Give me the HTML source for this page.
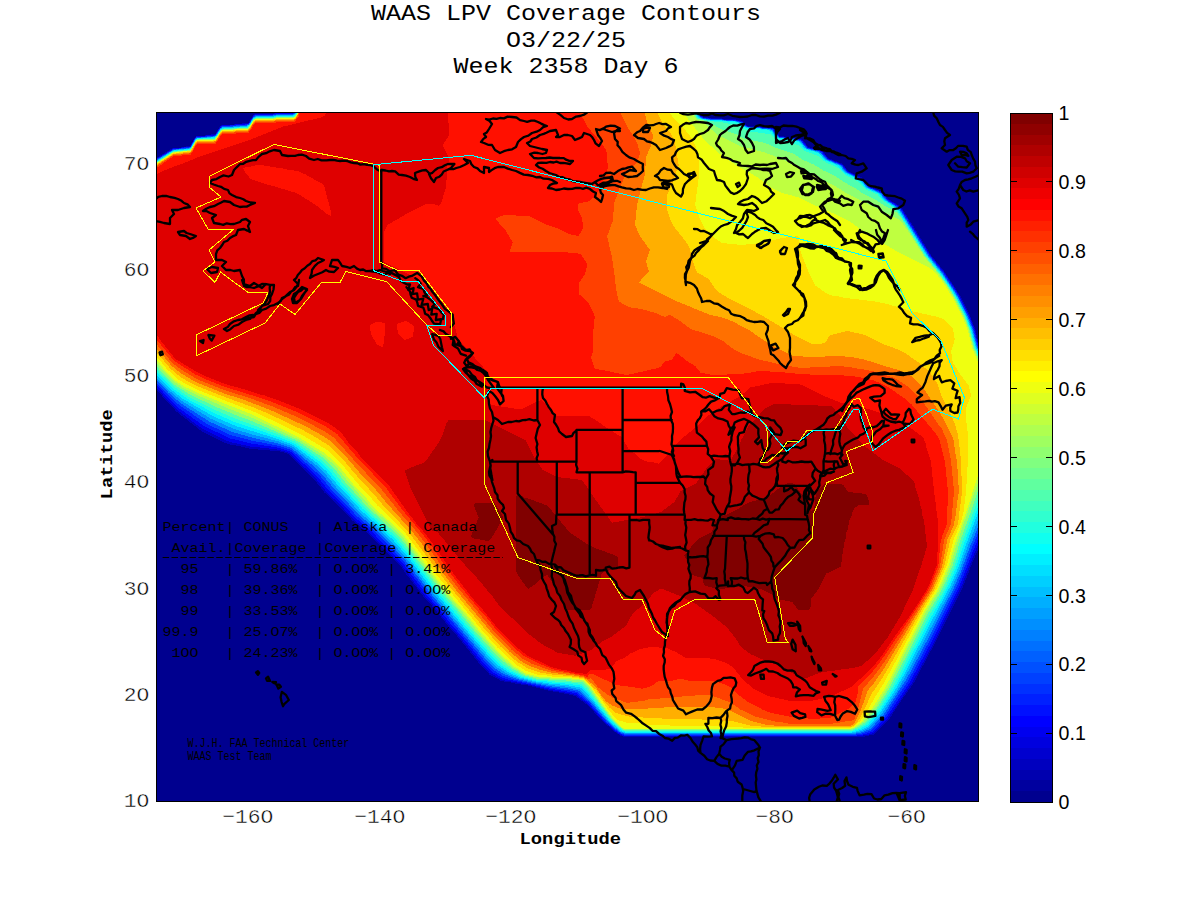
<!DOCTYPE html>
<html><head><meta charset="utf-8"><title>WAAS LPV Coverage Contours</title>
<style>
html,body{margin:0;padding:0;background:#fff;}
body{width:1200px;height:900px;overflow:hidden;font-family:"Liberation Mono",monospace;}
svg{display:block}
text{font-family:"Liberation Mono",monospace;fill:#000}
.sans{font-family:"Liberation Sans",sans-serif}
</style></head><body>
<svg width="1200" height="900" viewBox="0 0 1200 900">
<defs><clipPath id="pc"><rect x="156" y="112" width="823" height="690"/></clipPath></defs>
<rect width="1200" height="900" fill="#fff"/>
<g clip-path="url(#pc)">
<rect x="156" y="112" width="823" height="690" fill="rgb(0,0,143)"/>
<g shape-rendering="crispEdges">
<path fill="rgb(0,0,191)" d="M153.5,159.7 173.5,147.7 180.5,147.5 182.5,146.7 189.5,146.3 190.5,145.4 194.6,137.5 196.5,135.7 204.5,135.6 207.5,134.6 214.5,134.4 215.5,133.6 219.7,126.5 221.5,124.8 233.5,124.6 236.5,123.6 247.5,123.4 248.5,122.6 252.7,115.5 254.5,113.8 273.5,113.6 276.5,112.6 293.5,112.5 294.9,111.5 295.8,109.5 699.3,109.5 699.6,112.5 701.7,115.5 704.5,117.2 708.5,117.5 711.5,118.2 721.5,118.3 724.5,119 734.5,119.3 742.5,120.8 747,125.5 748.5,126.1 759.5,126.3 762.5,127.2 773.5,127.9 779.5,135.7 780.5,136.2 783.5,136.3 786.5,137.2 795.5,137.6 797.5,138.4 801.5,138.8 803.4,140.5 808.5,147.1 822.5,150.9 828.5,158.2 842.5,163.8 848.5,171.2 862.5,177.8 864.4,179.5 869.5,186.2 882.5,191.8 888.5,199.2 899.5,205.8 901.5,207.6 916.1,230.5 930.6,254.5 944.5,271.6 960.1,295.5 970.1,315.5 973.5,325.4 975.1,328.5 978.5,343.4 981.5,351.4 981.5,541.4 972,563.5 963.5,585.5 932.5,648.4 930.9,650.5 913.5,683.5 902,699.5 889.5,718.6 873.5,734.6 862.5,737 624.5,737.2 619.5,735.1 613.5,731.2 608.5,726.3 604.8,723.5 594.9,713.5 592.9,710.5 587.5,705 575.5,696.1 567.5,694.1 548.5,690.7 527.5,685.3 517.5,684 508.5,681.9 505.5,681.8 500.5,680.5 489.5,674.5 479.3,663.5 459.5,638.8 448.5,626.5 434.5,608.8 423.5,596.5 406.5,574.5 400.3,565.5 367.5,532.7 352.5,520.6 339.5,506.6 324.5,492.5 314.4,479.5 289.5,454.8 285.5,453 277.5,451 270.5,450.7 267.5,449.7 258.5,449.6 255.5,448.7 249.5,448.6 237.5,445.8 229.5,444.5 224,442.5 202,431.5 176.5,411.6 162.3,396.5 160.3,393.5 153.5,387Z"/>
<path fill="rgb(0,0,239)" d="M153.5,160.4 173.5,148.3 180.5,148 183.5,147.1 190.2,146.5 193.9,139.5 196.5,136.3 204.5,136 207.5,135.2 213.5,135.1 215.4,134.5 220.3,126.5 221.5,125.5 233.5,125.1 236.5,124.2 247.5,123.9 248.5,123.4 253.5,115.3 255.5,114.2 272.5,114.1 276.5,113.2 292.5,113.1 294.7,112.5 296.4,109.5 698.7,109.5 698.9,112.5 701,115.5 703.5,117.6 708.5,117.9 711.5,118.7 721.5,118.8 724.5,119.6 734.5,119.8 742.5,121.5 745.5,124.8 747.9,126.5 759.5,126.8 762.5,127.7 768.5,127.8 773.3,128.5 779.5,136.5 784.5,136.9 786.5,137.7 794.5,137.9 801.5,139.6 808.1,147.5 818.5,150 822.5,151.6 828,158.5 842.4,164.5 847.9,171.5 862.5,178.5 868.9,186.5 873.5,188.8 878.5,190.4 882.5,192.6 887.9,199.5 899.5,206.5 901.4,208.5 929.9,254.5 944.4,272.5 959.4,295.5 969.4,315.5 974.4,328.5 977.9,343.5 981.5,352.7 981.5,537.4 975.6,550.5 961.5,586.1 931.1,647.5 912.2,682.5 887.8,718.5 873.5,733.1 868.5,734.8 864.5,735.2 861.5,736.1 850.5,736.5 624.5,736.4 619.5,734.2 613.8,730.5 608.5,725.2 604.9,722.5 587.5,703.7 576.5,695.3 567.5,692.9 549.5,689.9 527.5,684.4 523.5,684.1 515.5,682.2 511.5,681.8 509.5,681 505.5,680.6 499.6,678.5 489.5,672.5 480.4,662.5 460.5,637.8 450.4,626.5 435.5,607.8 425.4,596.5 417.4,586.5 401.3,564.5 368.5,531.5 353.7,519.5 340.5,505.2 326.1,491.5 315.9,478.5 290,453.5 285.5,451.7 277.5,449.5 250.5,446.5 230.5,442.1 225.5,440.3 204.5,430 198.5,426.1 177.5,410.1 163.3,395.5 161.1,392.5 153.5,385.5Z"/>
<path fill="rgb(0,32,255)" d="M153.5,160.9 173.5,148.8 180.5,148.4 183.5,147.5 188.5,147.4 190.5,146.7 194.3,139.5 196.5,136.8 204.5,136.5 207.5,135.7 213.5,135.5 215.5,134.9 221.5,126.1 247.5,124.3 248.9,123.5 253.5,116.1 255.5,114.7 272.5,114.7 277.5,113.7 292.5,113.6 295.3,112.5 296.7,109.5 698.2,109.5 698.3,112.5 701.2,116.5 703.5,117.9 708.5,118.3 711.5,119 721.5,119.1 724.5,119.8 735.5,120.3 742.5,122.1 745.6,125.5 747.5,126.7 759.5,127.1 762.5,128 768.5,128.1 772.5,128.8 773.6,129.5 776.5,133.7 779.5,136.8 783.5,137.1 786.5,138 794.5,138.3 800.5,139.8 802.5,141.3 807.5,147.6 811.5,149.1 818.5,150.5 822.5,152.4 827.5,158.7 840.5,164 842.6,165.5 847.5,171.8 862.5,179.2 868.5,186.8 878.5,190.9 882.5,193.4 887.5,199.8 899.5,207.2 900.7,208.5 929.5,254.9 943.7,272.5 955.7,290.5 959.2,296.5 968.7,315.5 974,329.5 978.3,346.5 981.5,354.1 981.5,531.1 973.7,549.5 960,584.5 930.1,644.5 910.2,681.5 886.3,717.5 872.5,731.7 861.5,735.1 857.4,735.5 624.5,735.7 619.6,733.5 614.5,730.1 606.1,722.5 588.5,703.1 576.6,693.5 567.5,691.5 549.5,688.7 506.5,679.1 501.5,677.4 491.5,671.3 482.3,661.5 462.5,637.2 452.1,625.5 437.5,607.2 427.1,595.5 403,563.5 371.5,531.4 355,517.5 342.2,503.5 328.5,490.3 317.5,476.6 291.5,452.4 286.5,450.1 277.5,447.5 251.5,443.6 230.5,438.5 206.5,427.4 200.3,423.5 178.5,407.8 165,394.5 162.7,391.5 156.7,385.5 153.5,383.1Z"/>
<path fill="rgb(0,80,255)" d="M153.5,161.5 173.5,149.3 188.5,147.8 190.5,147.1 194.5,139.7 196.5,137.3 212.5,136.1 215.5,135.3 220.5,127.8 222.5,126.3 232.5,126.2 236.5,125.3 246.5,125 249.3,123.5 253.5,116.8 255.5,115.3 272.5,115.2 277.5,114.2 292.5,114.1 295.5,112.8 296.9,109.5 697.6,109.5 698.2,113.5 700.5,116.5 703.5,118.2 711.5,119.4 721.5,119.4 724.5,120.1 735.5,120.6 741.5,122.2 744.9,125.5 747.5,127 759.5,127.4 762.5,128.3 768.5,128.5 772.5,129.4 776.5,134.5 779.5,137.2 783.5,137.4 786.5,138.3 794.5,138.7 800.5,140.3 807.5,148.1 818.5,150.9 821.6,152.5 827.5,159.2 840.3,164.5 841.7,165.5 847.5,172.4 856.5,176.4 861.9,179.5 868.5,187.4 878.5,191.4 881.7,193.5 887.5,200.4 899.9,208.5 929.2,255.5 942.9,272.5 958.5,296.5 968.4,316.5 973.4,329.5 977.7,346.5 981.5,355.9 981.5,524.6 971.7,548.5 958.5,582.8 928.1,643.5 908.5,680.1 884.6,716.5 871.5,730.3 861.5,733.8 853.5,734.9 625.5,735 620.5,733.2 614.5,729 606.4,721.5 589.5,702.3 577.5,692 568.5,690.1 550.5,687.6 518.5,680.8 502.5,675.7 492.5,669.4 483.5,659.7 438.6,605.5 429,594.5 403.8,561.5 388.5,545 373.5,530.3 356.3,515.5 343.5,501.5 330.4,488.5 319.9,475.5 292.5,450.9 287.5,448.5 278.5,445.7 252.5,440.8 230.5,435 207.5,424.3 179.5,405.4 166.7,393.5 157.5,383.6 153.5,380.3Z"/>
<path fill="rgb(0,143,255)" d="M153.5,162 173.5,149.7 188.5,148.3 190.5,147.5 194.5,140.3 196.5,137.8 212.5,136.7 215.5,135.7 220.5,128.4 222.5,126.9 232.5,126.7 237.5,125.7 246.5,125.5 248.5,124.7 253.5,117.4 255.5,115.9 272.5,115.7 277.5,114.7 292.5,114.6 295.5,113.2 297.1,109.5 697,109.5 697.1,112.5 698.8,115.5 700.5,117.1 703.3,118.5 711.5,119.7 721.5,119.7 724.5,120.4 735.5,121 741,122.5 744.2,125.5 747.5,127.3 759.5,127.7 762.5,128.6 767.5,128.7 771.2,129.5 772.7,130.5 775.7,134.5 779.5,137.6 783.5,137.7 786.5,138.6 794.5,139.1 799.5,140.6 801.1,141.5 805,146.5 807.3,148.5 818.5,151.4 820.4,152.5 827,159.5 839.5,164.7 841.5,166.2 846.9,172.5 857.6,177.5 861.5,180 867.9,187.5 877.5,191.5 880.7,193.5 886.9,200.5 897.9,207.5 899.5,209 928.4,255.5 942.1,272.5 957.8,296.5 967.7,316.5 972.7,329.5 976.3,344.5 981.5,357.9 981.5,518.5 969.7,547.5 960.6,572.5 953.1,589.5 926,642.5 906.9,678.5 883,715.5 870.5,728.8 860.5,732.8 852.5,734.2 625.5,734.2 620.5,732.4 615.5,728.7 607.7,721.5 589.5,700.5 578.5,690.5 567.5,688.4 550.5,686.3 534.5,683.3 519.5,679.8 503.5,674 493.6,667.5 485.5,658.8 430.5,593.2 405.5,560.4 388.2,541.5 374.5,528.2 357.6,513.5 345.5,500.1 333,487.5 322.4,474.5 315.2,467.5 291.5,448.1 278.5,443.6 252.5,437.7 232.5,432.1 209.2,421.5 180.5,403.1 168.5,392.5 159.5,383 153.5,377.6Z"/>
<path fill="rgb(0,191,255)" d="M153.5,162.6 172.5,150.5 174.5,149.9 188.5,148.7 190.5,147.9 195.4,139.5 197.5,137.9 205.5,137.7 214.5,136.7 216.5,135.2 220.5,128.9 222.5,127.5 246.5,126.1 249.5,124.2 253.5,117.9 256.5,116.3 272.5,116.2 277.5,115.3 293.5,114.9 296.5,112.5 297.3,109.5 696.4,109.5 696.4,112.5 697.4,114.5 699.5,117.2 702.5,118.6 710.5,119.9 721.5,120.1 724.5,120.7 735.5,121.3 740.5,122.9 743.5,125.6 748.5,127.9 759.5,128.1 762.5,129 769.7,129.5 771.7,130.5 775.5,135.1 779.5,137.9 794.5,139.5 799.5,141.2 806.5,148.6 818.5,151.9 820.8,153.5 826.1,159.5 839.5,165.3 846.5,172.9 859.9,179.5 867.5,187.8 877.5,192 879.8,193.5 886,200.5 896.9,207.5 899.1,209.5 927.7,255.5 941.5,272.7 954.1,291.5 957.6,297.5 967,316.5 972,329.5 976.7,347.5 981.5,359.3 981.5,510.9 967.7,546.5 959.2,570.5 951.9,587.5 904.9,677.5 896.5,691.6 881.4,714.5 869.5,727.4 860.5,731.5 852.5,733.3 625.5,733.3 620.5,731.5 615.5,727.6 608.5,721 590.5,699.6 579.5,689.1 567.5,686.8 550.5,685 535.5,682.4 519.5,678.5 507.5,673.9 495.8,666.5 487.1,657.5 436.7,597.5 423.8,581.5 407.5,559.7 391.4,541.5 376.5,527.1 359.5,512.1 347.3,498.5 336.5,487.6 325,473.5 316.7,465.5 292.5,446.5 277.5,441.1 252.5,434.6 233.5,428.8 210.5,418.5 181.1,400.5 170.4,391.5 153.5,374.7Z"/>
<path fill="rgb(0,239,255)" d="M153.5,163.2 173.5,150.6 189.5,148.9 191.5,147.1 195.5,139.7 197.5,138.4 214.5,137.3 216.5,135.6 220.5,129.4 222.5,128.1 232.5,127.7 237.5,126.8 246.5,126.7 249.5,124.6 253.5,118.4 256.5,116.8 272.5,116.7 277.5,115.8 293.5,115.5 296.5,113 297.5,109.5 695.7,109.5 696,113.5 698,116.5 699.5,117.8 702.5,119 710.5,120.2 721.5,120.4 724.5,121.1 734.9,121.5 740.5,123.5 743.5,126.3 747.5,128.1 759.5,128.4 762.5,129.3 768.5,129.6 771.5,131.2 774.9,135.5 778.5,138 783.5,138.4 786.5,139.3 792.2,139.5 798.8,141.5 800.2,142.5 804.2,147.5 806.5,149.2 818.5,152.5 825.5,159.8 838.8,165.5 845.5,172.8 858.9,179.5 861.3,181.5 866.5,187.8 878.9,193.5 885.1,200.5 894.5,206.5 898.3,209.5 926.9,255.5 941.3,273.5 953.3,291.5 956.9,297.5 966.3,316.5 971.3,329.5 976,347.5 981.5,360.9 981.5,503.6 965.7,545.5 957.5,569.5 950.1,586.5 934,616.5 903,676.5 892.5,694.3 879.8,713.5 868.5,726.1 859.5,730.5 851.5,732.6 625.5,732.5 621.5,731.3 616.5,727.4 609.3,720.5 591.3,698.5 583.5,690.1 580.3,687.5 567.5,685.2 551.5,683.8 536.5,681.6 520.5,677.5 508.5,672.4 497.5,665.1 489,656.5 465.1,628.5 429.5,585.5 408.3,557.5 393.6,540.5 377.5,525 361.2,510.5 348.7,496.5 338.5,486.1 326.6,471.5 318.5,463.8 293.5,445 278.5,439.2 235.5,425.9 212.5,415.9 182.5,398.6 171.5,389.8 153.5,371.6Z"/>
<path fill="rgb(32,255,223)" d="M153.5,163.7 173.5,151 189.5,149.4 191.5,147.5 195.5,140.1 197.5,138.8 214.5,137.9 217.5,134.8 220.5,129.9 222.5,128.6 247.5,126.9 250.5,123.8 253.5,118.9 256.5,117.4 272.5,117.3 277.5,116.3 293.5,116.1 296.5,113.5 297.6,109.5 695.1,109.5 695.1,112.5 695.9,114.5 697.9,117.5 700.5,118.8 710.5,120.6 720.5,120.9 736.5,122.5 739.5,123.7 743.5,127.1 748.5,128.8 758.5,129 762.5,130 769.1,130.5 771.5,132.4 774.5,136.2 779.5,138.9 794.5,140.5 797.2,141.5 799.5,142.9 803.5,148 806.5,150 813.6,151.5 818.5,153.4 825.5,160.6 837.5,165.5 845.5,173.6 857.8,179.5 860.3,181.5 864.5,186.9 866.5,188.5 877.8,193.5 884.1,200.5 897.5,209.6 926.5,256 940.6,273.5 952.6,291.5 956.5,298.1 965.7,316.5 970.7,329.5 975.3,347.5 981.5,362.7 981.5,496 975.5,513.5 963.7,544.5 955.5,569.1 948.4,585.5 943.4,595.5 932,615.5 901.1,675.5 890.8,693.5 880.5,709.6 867.8,724.5 859.5,729.1 851.5,731.7 625.5,731.7 621.5,730.4 609.6,719.5 592.1,697.5 585.2,689.5 580.5,685.6 567.5,683.7 551.5,682.5 546.5,681.5 536.5,680.5 526.5,678.2 521.3,676.5 510.5,671.5 501.4,665.5 497.5,662.3 490.5,655.1 472.7,634.5 434.5,588.6 410.1,556.5 395.7,539.5 379.1,523.5 362.5,508.5 340.5,484.5 328.5,469.8 319.6,461.5 294.5,443.5 277.5,436.6 233.5,421.5 213.5,412.8 187.5,398.9 172.5,388.1 158.5,374.4 153.5,368.6Z"/>
<path fill="rgb(80,255,175)" d="M153.5,164.1 173.5,151.4 189.5,149.9 191.5,148 194.9,141.5 196.5,139.6 198.5,139.1 214.5,138.6 217.5,135.2 220.5,130.3 222.5,129.1 247.5,127.6 250.5,124.2 253.5,119.3 256.5,117.9 272.5,117.8 277.5,116.8 293.5,116.7 294.5,116.2 296.8,113.5 297.8,109.5 694.4,109.5 694.6,113.5 697,117.5 698.5,118.7 709.5,121.1 720.5,122.1 735.5,125.1 739.5,126.2 747.5,131.1 770.5,134.3 774.5,138.1 778.5,140.4 798.5,145.1 802.5,149.2 805.5,151.3 817.5,155.6 825.5,162.3 837.5,167.5 845.5,175.1 858.5,181.6 863.6,187.5 866.5,189.7 877.6,194.5 883.5,201.1 893.7,207.5 897.5,210.9 926,256.5 939.8,273.5 951.8,291.5 956,298.5 965,316.5 970.3,330.5 974.6,347.5 981.5,364.3 981.5,487.6 973.2,512.5 962,542.5 954,567.5 946.6,584.5 941.6,594.5 930.5,613.5 898.1,676.5 889.2,692.5 878.5,709.2 866.5,723.3 858.5,728.2 851.5,730.9 624.5,730.8 621.6,729.5 610.5,719.1 586.6,688.5 581.5,684 568.5,682.2 551.5,681.3 546.5,680.2 536.5,679.5 527.5,677.3 522,675.5 511.5,670.2 502.5,663.8 491.5,653.1 474.4,633.5 454.5,609 436.2,587.5 411.5,555 397.5,538.1 364.5,507.2 342.5,483 332.6,470.5 321.5,459.9 294.6,441.5 278.5,434.6 235.5,418.7 215.5,410.2 188.5,396.7 173.5,386.3 159.5,372.6 155.2,367.5 153.5,364Z"/>
<path fill="rgb(143,255,112)" d="M153.5,164.6 173.5,151.8 189.5,150.3 191.5,148.4 195.1,141.5 196.5,140 198.5,139.5 214.5,139.1 216.5,137.1 221.5,129.9 224.5,129.3 233.5,129.2 237.5,128.3 247.5,128.1 249.5,126.1 253.5,119.8 255.5,118.5 272.5,118.3 277.5,117.3 293.5,117.2 294.8,116.5 297.1,113.5 297.9,109.5 693.7,109.5 694.1,114.5 697.5,119 705.5,120.9 709.8,122.5 720.5,128.9 735.5,133.9 744.5,138.8 765.5,143.1 776.5,148.1 793.5,153.8 803.5,160.2 813.8,164.5 823.5,170.5 834.5,175.7 843,181.5 855.5,188.4 863.5,193.9 876.5,200.3 883.5,205 896.5,212.3 900.5,216.8 925.1,256.5 939.5,274.3 946.5,284.2 954.7,297.5 964.2,316.5 969.7,330.5 973.9,347.5 981.5,365.9 981.5,479.5 970.9,511.5 960,541.5 952.2,566.5 944.9,583.5 939.8,593.5 928.5,612.3 909.3,650.5 888.7,689.5 877.5,707.5 865.5,722 857.5,727.4 851.5,730.1 624.5,730.1 622.5,729.4 611.2,718.5 587.9,687.5 582.5,682.5 572.5,681.5 568.5,680.6 551.5,680 547.5,679.1 536.5,678.5 524.5,675.3 512,668.5 499.6,658.5 491.9,650.5 489.7,647.5 475.5,631.8 460.9,613.5 437.5,585.9 413.5,554.3 399.5,536.9 366.5,506 344.6,481.5 334.5,468.7 322.6,457.5 295.5,439.9 250.5,420.6 236.5,415.4 216.5,407.1 189.7,394.5 174.3,384.5 161.1,371.5 157,366.5 153.5,360.9Z"/>
<path fill="rgb(191,255,64)" d="M153.5,165 173.5,152.2 180.5,151.8 183.5,150.9 190,150.5 191.7,148.5 195.4,141.5 196.5,140.3 198.5,139.9 214.7,139.5 221.5,130.3 223.5,129.8 233.5,129.7 236.5,128.8 247.5,128.6 249.5,126.6 253.5,120.2 255.5,118.9 273.5,118.7 277.5,117.8 293.5,117.7 295.4,116.5 297.4,113.5 298,109.5 692.6,109.5 693,114.5 696.5,119.5 697.5,120.3 702.8,121.5 717.5,135.1 742.5,147.1 749.9,148.5 764.7,152.5 780.8,158.5 788.9,162.5 791.5,164.3 835.9,186.5 846.5,193.3 900.5,220.5 909.5,233.1 924,256.5 938.5,274.1 945.9,284.5 953.9,297.5 964,317.5 968.9,330.5 973.5,348.5 981.5,367.5 981.5,472.2 956.9,543.5 950.1,566.5 943.1,582.5 938.1,592.5 926.9,610.5 887,688.5 875.9,706.5 863.6,721.5 857.5,726.2 853.5,728.5 850.5,729.5 624.5,729.4 622.5,728.5 612.2,718.5 600.9,703.5 589.1,686.5 582.5,680.5 573.5,680.2 569.5,679.2 551.5,678.8 547.5,677.9 536.5,677.4 525.5,674.5 513.4,667.5 504.5,660.2 495.5,651.3 477.5,631.1 462.7,612.5 452.5,601.1 435.5,580.2 401.4,535.5 382.5,517.5 379.5,515.5 368.3,504.5 366.2,501.5 359.3,494.5 357.2,491.5 347.1,480.5 336.9,467.5 324.5,455.9 298.7,439.5 251.5,417.5 228.5,408.5 198.5,395.8 183.5,388.2 174.5,382.1 162.5,370.1 153.5,358.5Z"/>
<path fill="rgb(239,255,16)" d="M153.5,165.5 173.5,152.6 180.5,152.2 183.5,151.3 190.5,150.7 195.5,141.9 197.1,140.5 213.5,140.1 215.5,139.6 220.5,131.7 222,130.5 233.5,130.1 236.5,129.2 247.5,129 248.6,128.5 253.5,120.7 255.5,119.3 273.5,119.1 277.5,118.2 293.5,118.1 295.5,116.9 297.5,113.8 298.2,109.5 683,109.5 683.4,112.5 684.4,114.5 703.2,138.5 717.5,152.2 731.5,162.1 744.5,170.1 756.5,176.6 770.5,187.1 782.5,193 798.5,197.4 822.5,208.9 838.5,215.5 850.2,221.5 861.5,230.2 896.5,251.1 928.8,267.5 933.5,270.5 942.5,281.5 953.5,298.8 962.5,316.5 968.2,331.5 972.5,348.5 978.8,364.5 981.5,369.8 981.5,468.3 978.5,473.5 967.1,509.5 955.2,542.5 948.7,565.5 945.3,572.5 941.8,581.5 936.8,591.5 925.4,609.5 884.5,689.3 871.5,709.5 861.5,721.8 853.5,727.7 850.5,728.8 624.5,728.7 622.5,727.6 612.5,717.7 601.3,702.5 590.3,686.5 583.5,679.7 573.5,679.1 570.5,678.2 551.5,677.8 548.5,676.9 537.5,676.6 525.5,673.3 514.5,666.5 508.5,660.8 505.5,658.8 495.5,648.8 493.2,645.5 486.2,638.5 484.2,635.5 478.5,629.6 464.2,611.5 453.5,599.6 436.5,578.6 403.2,534.5 383.5,515.7 380.5,513.6 370.4,503.5 368.4,500.5 353.5,484.5 339.2,466.5 325.5,453.7 299.5,437.8 251.5,414.2 199.5,393.7 184.5,386.6 175.5,380.7 164.2,369.5 158.2,361.5 153.5,356.9Z"/>
<path fill="rgb(255,223,0)" d="M153.5,166 173.5,153.1 190.5,151.1 195.5,142.5 197.5,140.8 212.5,140.7 215.5,140.1 220.5,132.4 222.5,130.8 232.5,130.7 236.5,129.7 247.5,129.5 249,128.5 253.5,121.4 255.5,119.8 272.5,119.7 277.5,118.7 293.5,118.5 295.5,117.5 297.5,114.2 298.3,109.5 669,109.5 669.4,112.5 673.5,117.9 685.7,130.5 690.4,136.5 693.5,141.6 696.5,148.5 697.8,154.5 698,158.5 699,161.5 699.1,176.5 698.2,180.5 698.2,184.5 697.2,187.5 697.2,191.5 696.3,194.5 696.2,199.5 695.3,202.5 695.5,206.3 699.7,218.5 704.8,228.5 712.6,236.5 721,242.5 725.5,242.9 727.5,243.7 734.5,243.8 737.5,244.8 744.5,244.9 747.5,244 754.5,244 757.5,243.1 761.5,243 779.5,238.5 783.5,238.2 786.5,237.3 792.5,237.3 795.5,236.4 797.8,236.5 798.6,237.5 798.9,240.5 799.7,242.5 799.8,247.5 801.1,253.5 809.2,273.5 815.5,285.5 826.5,293.5 831.6,295.5 836.5,295.9 843.5,297.7 847.5,297.7 850.5,298.7 856.5,298.8 859.5,299.7 864.5,299.8 867.5,300.8 871.5,300.8 887.5,304.1 909.5,310.7 935.5,316.4 944.5,319.5 952.4,327.5 953.7,332.5 953.8,335.5 954.8,339.5 951.3,350.5 951.1,352.5 952,356.5 952.1,359.5 953.4,363.5 960.5,374.7 968.7,385.5 970.9,394.5 970.7,396.5 966.3,407.5 966.4,422.5 967.2,424.5 967.5,430.5 968.4,433.5 968.5,446.5 967.7,449.5 967.7,466.5 966.9,469.5 966.9,482.5 966.1,485.5 966.1,494.5 965.2,497.5 965.1,502.5 964.2,505.5 963.7,511.5 961.5,520.3 953.7,539.5 947.1,564.5 936.5,588.8 923.7,609.5 882.5,685.5 875.2,696.5 868.8,708.5 860.8,720.5 853.5,726.8 849.5,728.1 750.5,727.8 716.5,726.4 694.5,726.3 691.5,725.5 669.5,725.5 665.9,724.5 644.5,724.5 640.8,723.5 629.5,723.4 618.5,720.4 614.5,716.9 607.5,708.5 598.4,695.5 596.2,693.5 590.5,685.6 583.5,678.8 573.5,678.1 570.5,677.2 552.5,676.6 549.5,675.7 538.5,674.9 526.5,671.2 515.5,664.3 509.5,658.6 506.5,656.5 497.5,647.5 480.6,628.5 438.7,577.5 405.5,533.2 377.5,505.5 371.5,498.3 357.5,483.4 342.1,464.5 327.5,450.3 301.5,434.5 257.5,413.2 200.5,391 186.5,384.4 177.5,378.9 166.3,368.5 160.1,360.5 153.5,354.3Z"/>
<path fill="rgb(255,175,0)" d="M153.5,166.6 173.5,153.7 180.5,153.2 183.5,152.4 188.5,152.2 190.5,151.6 195.5,143.1 197.2,141.5 212.5,141.3 215.5,140.6 220.5,133 222.2,131.5 232.5,131.3 236.5,130.4 247.5,130 249.5,128.5 253.5,122 255.5,120.4 272.5,120.3 277.5,119.3 293.5,119.1 295.5,118 298.1,113.5 298.5,109.5 657,109.5 657.2,112.5 662.2,122.5 670.6,133.5 674.6,141.5 676.8,152.5 678,162.5 678.8,164.5 678.5,166.5 677.1,169.5 672.7,182.5 667.3,194.5 667.2,210.5 671.1,221.5 673.1,225.5 686.5,242.5 689.5,247.5 692,258.5 696.2,270.5 697.4,272.5 708.5,278.9 716.6,290.5 720.5,293.4 728.9,298.5 749.5,308.6 767.5,318.7 795,335.5 812.5,344.1 814.5,344.4 816.5,343.6 821.5,343.5 824.5,342.5 826.1,341.5 828.9,336.5 830.5,335 847.5,330.9 865.5,335.1 884.5,344.5 896.5,348.9 904.5,352.8 920.4,363.5 924.5,367.5 926.5,368.7 930,372.5 936,381.5 938,385.5 941.7,396.5 953,419.5 955,424.5 958.2,435.5 958.3,438.5 959.2,441.5 959.3,446.5 960.1,449.5 960.2,454.5 961.1,457.5 961.2,474.5 962,477.5 961.9,494.5 961,497.5 960.9,502.5 960,505.5 958.9,518.5 957.6,524.5 950.3,539.5 944.5,565.5 934.2,589.5 922.3,608.5 886.9,670.5 878.5,684 871.7,693.5 863,712.5 859.7,718.5 856.1,723.5 852.5,726.3 849.5,727.1 765.5,726.9 750.5,725.7 732.5,721 722.5,720.6 719.5,719.7 702.5,719.6 699.5,718.8 662.5,718.6 659.5,717.8 643.5,717.7 639.5,716.8 630.5,716.8 618.5,713.8 614.5,712.3 609.5,707.5 603.3,700.5 599.6,694.5 595.5,689.2 593.5,688 590.6,684.5 583.5,678 574.5,677.1 570.5,676.1 553.5,674.8 539.5,672.4 527.5,668.3 516.8,661.5 508.5,654.4 500.5,646.5 483.5,627.5 449.5,586.4 408.1,531.5 382.4,504.5 374.5,495 355.6,474.5 345.5,462.3 329.5,446.1 318.5,438.9 303.5,430.4 269.5,414.2 254.5,407.8 217.5,394.3 201.5,387.9 189.8,382.5 179.5,376.3 170.5,368.7 160.5,356.9 153.5,350.1Z"/>
<path fill="rgb(255,112,0)" d="M153.5,167.4 173.2,154.5 188.5,153 190.5,152.2 192,150.5 195.5,143.8 197.5,142.2 212.5,142 215.5,141.2 220.5,133.8 222.5,132.2 232.5,132 237.5,131 247.5,130.7 249.5,129.2 253.5,122.8 255.5,121.2 272.5,121 277.5,120 293.5,119.9 295.5,118.7 297.1,116.5 298.3,113.5 298.7,109.5 644.7,109.5 644.8,113.5 647.1,122.5 652.7,134.5 653,136.5 651.1,145.5 645.8,157.5 645.3,172.5 637.2,204.5 637.1,208.5 636.2,211.5 636.1,218.5 635.2,221.5 635.2,225.5 640.3,236.5 649.6,249.5 649.6,250.5 646.2,261.5 648.8,271.5 640.5,280.5 639.4,282.5 674.5,300.3 709.5,314.7 721.5,317.3 732.5,321.3 749.5,330.4 764.5,340.8 774.5,346.7 792.5,355.5 800.5,355.9 804.5,356.9 823.5,356.9 827.5,356 841.5,355.7 845.5,356.6 849.5,356.7 865.5,359.9 892.8,368.5 895.5,368.9 903.5,372 912.5,376.8 921.2,385.5 924.5,389.8 939.8,412.5 944.9,421.5 952.7,437.5 953.8,441.5 955.9,456.5 956.8,459.5 956.9,466.5 957.7,469.5 957.9,482.5 958.8,485.5 958.8,493.5 957.9,496.5 955.9,513.5 953.8,525.5 947.3,539.5 942.1,566.5 933.2,587.5 929.5,594.3 920.8,607.5 884.5,667.7 874.5,682.3 867.8,690.5 860.3,711.5 854.5,723.2 852.5,724.8 850.5,725.5 844.5,725.7 774.5,725.6 771.5,724.8 765.5,724.5 753.5,721.7 748.5,719.8 727.5,709.5 721.5,708.2 716.5,708.1 713.5,707.1 665.5,707.1 661.5,708 649.5,708.1 646.5,709 620.5,708.8 612.5,705.5 606.5,701.9 602.5,697 596,687.5 592.5,683.5 590.5,682.8 584.2,677.5 571.5,675.1 553.5,673 540.5,669.9 528.5,665.5 521.7,661.5 509.5,651.5 492.5,633.9 455.5,589.4 441.8,571.5 420.8,542.5 411.3,530.5 386.2,502.5 377.4,491.5 359.5,472.5 348.5,459.5 331.5,441.7 320.5,434.5 305.5,426.2 271.4,410.5 246.5,400.8 223.5,393.2 200.5,384 191.5,379.7 181.5,373.7 171.5,365.9 162.5,355 153.5,345.5Z"/>
<path fill="rgb(255,64,0)" d="M153.5,168.3 173.5,155.2 188.5,153.9 190.5,153.1 192,151.5 195.5,144.7 197.5,143.1 214.5,142.7 216.5,141.2 220.5,134.7 222.5,133.1 232.5,132.9 237.5,131.9 247.5,131.7 249.5,130.2 253.5,123.7 255.5,122.1 272.5,121.9 277.5,120.9 292.5,120.9 294.5,120.4 297.3,117.5 298.7,113.5 299.1,109.5 620.6,109.5 620.9,113.5 629,129.5 632.5,134.5 637.3,143.5 640.2,153.5 636.2,163.5 627.2,171.5 619.3,188.5 614.1,203.5 614,210.5 613,213.5 612.6,221.5 607.1,236.5 612.1,257.5 613.1,266.5 614,269.5 614,273.5 614.9,276.5 614.9,281.5 615.8,284.5 615.9,288.5 618.2,299.5 619.5,301.9 628.5,306.9 633.5,308.2 637.5,308.3 647,310.5 657.1,313.5 664.5,316.9 669.5,315 671.1,315.5 679.5,320.6 690.5,328.9 692.5,329.9 702.5,332.5 716.5,337.5 723.5,341.4 731,347.5 736.5,350.8 742.5,353.7 759.5,359.6 785.5,365.7 789.5,365.9 792.5,366.7 795.5,366.8 798.5,367.7 809.5,367.7 812.5,366.9 828.5,366.9 832.5,366 842.5,366 845.5,366.9 849.5,367 858.5,368.9 861.5,369 877.5,372.3 892.5,377.3 898.5,380.3 907.8,386.5 919.9,398.5 927.5,408.3 936.2,421.5 941.6,428.5 946.7,439.5 950.9,459.5 951.1,464.5 951.9,467.5 952.1,474.5 952.9,477.5 953,484.5 953.9,487.5 953.8,495.5 953,498.5 952.9,506.5 952,509.5 951.8,517.5 951,520.5 950.8,524.5 944.3,539.5 940,566.5 931.7,586.5 928,593.5 885.3,660.5 874.5,675.5 863.2,688.5 857.4,711.5 854.5,718.7 852.3,720.5 848.5,720.8 839.5,722.7 835.5,722.9 832.5,723.7 822.5,723.8 819.5,724.4 803.5,724.4 799.5,723.7 788.5,723.7 779.5,721.8 775.5,721.7 754.5,716.5 740.5,709.5 732.5,704 726.5,701 710.5,695 696.5,695 693.5,695.8 684.5,695.9 681.5,696.8 676.5,696.8 673.5,697.7 662.5,697.8 659.5,698.8 650.5,698.9 644.5,700.6 640.5,700.9 637.5,701.7 632.5,701.7 629.5,702.6 626.5,702.6 612.5,697.5 608.5,695.4 597.5,686.9 593.8,681.5 590.5,678.3 588.5,679.5 583.5,676.3 568.5,673.3 556.5,671.7 548.5,669.8 531.5,663.5 522.5,658.5 511.5,649.5 494.9,632.5 457.5,587.3 444.6,570.5 431.4,551.5 415.5,530.5 400.7,513.5 380.8,488.5 357.9,464.5 333.8,437.5 322.5,430.2 298.2,417.5 273.5,406.8 248,397.5 224.5,390.1 201.5,381 193.5,377.1 183.5,371.1 172.9,363.5 153.5,340.7Z"/>
<path fill="rgb(255,16,0)" d="M153.5,169.4 156.5,167.9 173.5,156.4 180.5,156 183.5,155.1 190.5,154.6 192.9,151.5 196,145.5 197.5,144.2 213.5,144 215.5,143.6 221,135.5 222.5,134.2 233.5,134 237.5,133.1 247.5,133 248.5,132.6 250.3,130.5 254,124.5 255.5,123.2 273.5,123 277.5,122.1 294.5,121.7 298.3,117.5 299.3,113.5 299.4,109.5 580.1,109.5 580.4,113.5 587.2,126.5 599.5,141 605.9,149.5 607.2,155.5 607.2,161.5 608.1,165.5 607.7,168.5 601.5,185 598.7,190.5 596.8,192.5 593.8,197.5 589.5,200.8 586.5,202.3 579.5,202.7 577.6,205.5 577.6,209.5 582,218.5 583.3,226.5 582.5,229.4 578.8,235.5 577.5,235.9 569.5,234.1 558.5,228.8 546.5,224.5 528.5,216 517.5,216.1 514.5,215.1 503.5,215.3 497.5,217.6 496,218.5 495.7,219.5 504.5,228.8 512.8,242.5 510,250.5 510.5,251.7 574.5,252.6 580.5,254.1 585.9,261.5 587.2,264.5 586.3,269.5 584.5,274.6 578.7,283.5 578.6,292.5 579.5,294.6 584.3,298.5 588.1,302.5 594.5,315.5 594.5,318.5 593.6,321.5 593.6,328.5 592.7,331.5 592.9,351.5 591.1,357.5 594.4,367.5 595.4,368.5 599.5,369.8 602.5,369.9 625.5,374.9 627.5,374.9 658.5,367.9 660.8,366.5 664.5,361.5 670.5,360 672.5,359 675.5,353.8 676.5,353.1 680.5,355.7 685.5,360.1 695.7,366.5 700.5,372.6 711.5,374.9 725.5,375 728.5,374 742.5,373.9 745.5,373 749.5,372.9 758.5,371.1 768.5,371.1 772.5,372.1 784.5,372.3 787.5,373.1 794.5,373.3 797.5,374.2 809.5,374.3 812.5,375.2 844.5,375.5 847.5,376.4 854.5,376.5 856.5,377.3 861.5,377.5 873.5,380.5 879,382.5 887.5,386.7 903.5,397.6 911.6,404.5 936.5,434.5 939.4,439.5 944.5,459.8 944.7,464.5 945.6,467.5 945.7,474.5 946.6,477.5 946.7,484.5 947.6,487.5 947.7,505.5 946.8,509.5 946.7,524.5 942.1,536.5 940.5,542.5 938.4,565.5 929.9,586.5 927.3,591.5 911.1,616.5 879.1,663.5 871.5,672.9 858.5,686.5 857.6,693.5 855.5,702.2 854.5,703.9 847.5,709.5 830.5,717.5 822.5,717.6 819.5,718.5 808.5,718.6 804.5,717.7 797.5,717.6 794.5,716.7 789.5,716.6 769.6,712.5 762.5,709.5 747.3,701.5 738.5,694.8 730.5,687.2 721.5,683.1 711.5,680.9 689.5,680.8 681.5,678.9 679.5,678.9 671.5,680.8 658.5,681 652.5,685.3 648.5,687.2 643.5,688.5 641.5,688.6 639.5,687.8 635.5,687.6 632.5,686.8 628.5,686.8 625.5,685.9 621.5,685.8 615.5,684.6 591.5,673.5 589.5,674.3 587.5,676.7 586.5,676.7 584.5,675.6 553.5,669.3 539.5,663.9 524.5,656.4 513.5,647.4 496.8,630.5 487.4,618.5 476.8,606.5 459.6,585.5 447.5,569.5 434,549.5 422.9,534.5 403.7,511.5 384.5,485.8 357.9,458.5 337.5,434.3 325.5,426.3 299.5,413.1 265.5,399.5 223.5,386.4 203.5,378.4 195.5,374.5 174.5,361.2 157.3,340.5 153.5,335.4Z"/>
<path fill="rgb(223,0,0)" d="M154.5,177.5 157.8,173.5 161.5,171.6 176.7,165.5 181.5,164.1 199.8,156.5 251.5,139.2 283.4,126.5 321.5,117.4 324.8,115.5 329,109.5 448,109.5 448.2,122.5 449.2,125.5 449.3,134.5 448,137.5 444.2,142.5 442.8,145.5 448.5,156.5 448.5,161.5 447.5,164.5 447.4,176.5 446.5,179.5 446.4,185.5 441.1,203.5 439.5,205.4 438.5,205.5 436.5,204.7 426.5,203.7 406.5,213.8 387.5,225 383.8,232.5 384.1,261.5 385.5,262.9 417.6,278.5 432.8,293.5 434.8,296.5 450.5,312.3 451.7,314.5 454.2,325.5 455.8,329.5 457.3,336.5 458.3,338.5 462.2,343.5 473.3,355.5 475.4,358.5 480.4,363.5 484.1,368.5 484.4,371.5 485.3,374.5 485.4,380.5 486.4,383.5 486.6,390.5 487.5,393.5 487.7,399.5 488.9,403.5 492.5,405.1 520.5,409.5 538.5,401 541.5,400.1 544.2,402.5 546.3,405.5 555.5,415.5 589.5,416.4 597.5,421.3 606.5,427.8 621.5,437 622.8,438.5 628.2,448.5 636.5,454.8 640.5,458.5 643.5,460.5 646.7,461.5 651.5,461.9 658.5,463.5 659.5,463.2 662.5,460.4 664.5,457.5 670.5,451.5 677.6,442.5 681.5,438.7 695.5,427.7 708.1,415.5 721.5,406.3 739.5,396.8 750.5,387.5 769.5,383.3 784.5,383.3 787.5,384.2 800.5,384.5 822.7,395.5 840.5,402.5 865.5,408.2 881.5,413.4 896.5,419.5 902.5,422.6 914.5,430.8 923.1,437.5 925.5,443.1 925.8,445.5 930.7,460.5 930.8,464.5 931.8,467.5 931.9,474.5 932.8,477.5 932.9,484.5 933.9,487.5 935,500.5 935.9,503.5 936.9,515.5 937.8,518.5 938,550.5 937.1,553.5 936.7,565.5 928.8,585.5 925.8,591.5 910,615.5 894.6,636.5 880.5,657.5 876.5,662.5 871.5,667.5 869.5,670.5 863.5,676.4 858.2,680.5 852.5,686.1 843.5,690.7 841.5,691.2 830.5,696.6 811.5,700.9 789.5,700.8 769.5,696.4 760.7,692.5 751.5,687.4 741.3,677.5 733.5,668 728.5,664.2 724.5,662.2 715.5,659.2 710.5,658.8 707.5,657.9 684.9,657.5 675.5,651.9 666.5,647.9 660.5,647.9 657.5,647 649.5,647.1 639.5,649.4 630.5,653.4 624.5,657.8 616.5,661.2 610.5,668.4 601.5,670.5 590.5,670.4 586.5,673.7 585.5,673.9 575.4,672.5 565.5,670 561.5,669.6 553.5,667.8 548.5,665.9 526.5,655.1 514.5,645.4 498.6,629.5 483.5,610.5 473.5,599.4 449.5,568.5 436.3,548.5 425.2,533.5 416.5,523.5 406.4,510.5 388.1,484.5 360.5,456.5 358.5,453.6 348.5,442.5 340.4,431.5 327.5,422.7 301.5,409.7 276.5,399.6 264.5,395.5 261.5,395 248.5,390.5 224.5,383.9 204.5,375.9 196.5,371.9 175.5,359 162.5,343 158.5,337.3 154.5,332.9 153.5,331.1 153.5,179.3ZM375.5,322 371.5,324 370,325.5 369.8,328.5 370.8,331.5 371.1,334.5 376.5,344 381.5,346.8 382.5,346.7 383.9,342.5 384.1,337.5 385.1,334.5 385,323.5 379.5,321.9ZM406.5,320.9 399.5,322.9 397.5,324 396.8,325.5 398,333.5 404.5,339.9 408.5,339 413,336.5 413.3,332.5 414.3,329.5 414.1,326.5 413.5,325.6ZM243.2,168.5 243.9,170.5 250.5,179.1 272.5,186.1 275.4,186.5 282.5,189.1 285.3,189.5 292.5,192.1 295.5,192.6 299.5,194.6 316.5,205.7 327.5,214.3 330.5,216 331.1,215.5 331.3,213.5 324.2,185.5 322.5,183.8 308.8,176.5 306.5,174.8 297.5,170.9 287.5,169.7 280.5,167.9 276.5,167.7 274.5,166.9 270.5,166.7 268.5,165.9 264.5,165.7 261.5,164.7 252.5,165.9 250.5,166.7 246.5,166.9Z"/>
<path fill="rgb(175,0,0)" d="M927.2,545.5 920.5,568.1 918.9,571.5 912.6,590.5 899.7,617.5 887.5,637.5 875.3,653.5 869.4,659.5 866.5,661.4 862.5,665.1 859.5,666.4 851.5,668.4 846.5,668.6 844.5,669.4 837.5,669.6 834.5,670.5 829.5,670.6 826.5,671.6 823.5,671.8 819.5,672.8 807.7,677.5 803.5,678.5 792.8,673.5 784.5,667.9 780.5,665.9 769.5,662.4 750.5,654.2 740.5,646.4 735.1,637.5 727.1,627.5 714.7,617.5 695.2,603.5 681.5,596.6 667.5,591.1 662.5,588.6 659.5,589.4 653.5,593.1 647,600.5 639.5,607.9 636.5,609.9 633.5,612.9 629.1,619.5 626.6,624.5 623.6,627.5 611.5,636.6 601.5,642 590.5,650.4 576.1,655.5 574.5,655.7 572.5,654.9 568.5,654.7 557.5,652.6 541.5,643.9 526.5,632.3 498.3,604.5 491.1,594.5 487.3,590.5 480.5,581.8 459.9,559.5 450.5,547.1 440.1,535.5 438.5,532.9 436.5,531.5 432.5,531.3 431.7,530.5 410,486.5 405.1,471.5 405.2,470.5 409.5,468.1 421.5,463.6 425.5,461.5 438.8,442.5 441.9,436.5 446.5,423.5 449.1,419.5 484.5,419.8 524.5,439.5 525.5,440.5 534.3,457.5 542.5,469.5 555.7,476.5 559.5,476.9 561.5,477.7 567.5,477.8 570.5,478.7 575.5,478.9 582,480.5 588.9,489.5 595.4,499.5 611.5,522 612.5,522.6 615.5,521.7 618.5,521.7 631.5,518.9 634.5,518.8 652.5,514.8 661.5,511.8 674.5,501.9 680.3,491.5 695.9,483.5 706.5,468.3 715.4,459.5 718.5,459.2 721.5,460.1 726.5,460.1 729.5,460.9 730.8,460.5 740,443.5 741.5,439.5 747.6,427.5 752.5,421.6 759.6,414.5 761.5,411.7 765.1,408.5 774.5,403.9 776.5,403.5 788.5,403.6 791.5,404.5 815.5,404.9 819.5,405.9 830.5,406.1 831.6,406.5 834.7,409.5 836.9,412.5 841.9,417.5 847.5,427.5 864.5,446.1 882.5,459.7 899.5,468.4 913.3,480.5 914.5,483.2 914.8,485.5 918.5,497.4 921.5,509.5 921.6,512.5 924.4,522.5 924.6,526.5 925.3,528.5 925.4,533.5 926.2,536.5 926.3,540.5Z"/>
<path fill="rgb(128,0,0)" d="M867.1,495.5 869.1,502.5 868.5,504.5 866.5,505.3 858.5,505.3 855,507.5 852.5,512 851.3,516.5 849.5,520.1 847.3,530.5 846.4,532.5 845.3,540.5 844.4,542.5 844.3,546.5 843.5,548.2 843.3,552.5 842.4,554.5 842.3,560.5 841.4,562.5 841.3,565.5 840.5,566.8 826.5,573.5 818.9,588.5 811.5,598.2 810.3,608.5 808.5,610.3 799.5,610.3 797.1,608.5 792.5,602.4 789.5,601.4 786.5,601.3 784.5,600.4 780.5,600.3 777.5,599.2 772,594.5 762.1,589.5 759.5,589.2 757.5,588.3 754.5,588.2 752.5,587.3 748.5,587.2 746.5,586.3 743.5,586.3 740.5,587.1 734.5,587.3 732.5,588.1 725.5,588.2 723.5,589 718.5,589.1 705.5,585.8 704.1,584.5 703.1,582.5 702.6,579.5 701.5,577.5 694.5,575.9 691.5,574.1 690,570.5 687.5,560.6 684.1,555.5 692.3,545.5 699.5,538.4 711.1,532.5 712.2,531.5 714.8,522.5 715.8,520.5 717.5,518.8 737.2,509.5 744.5,504.8 750.5,501.8 765.1,498.5 770.1,495.5 777.5,489.3 788.5,482.7 790.5,482.7 793.5,483.7 795.8,485.5 800.5,492.8 804.9,498.5 810.5,509.8 811.5,510.6 813.5,510.3 814.5,506.8 814.7,498.5 815.5,496.9 816.2,492.5 823.5,485.2 825.5,483.8 841.5,483.8 843.6,485.5 847.9,491.5 851.5,491.8 853.5,492.7 859.5,492.8 862.5,493.7 865.5,493.9ZM517.5,494.9 521.5,495.9 524.5,497.5 532.5,500 535.5,501.5 540.5,503 547.5,505.9 550.4,508.5 551.5,510.4 569.7,532.5 589.4,545.5 596.5,548.5 616.5,555.9 618.1,557.5 618.2,564.5 617.5,566.5 612.5,569.2 602.9,572.5 601.5,574 601.2,576.5 598.5,583.7 598.2,586.5 595.5,593.7 595.1,596.5 592.5,603.6 592.1,606.5 591.1,608.5 589.5,610.1 569.5,610.2 567.5,609.5 565.8,607.5 556.5,588.9 547.5,575 546.5,574.9 543.9,576.5 533.5,585.5 528.5,588.8 526.6,587.5 516.9,573.5 515.8,570.5 515.9,496.5ZM475.5,502.8 492.5,502.7 494.5,503.3 500.7,512.5 503.1,517.5 501.3,521.5 491.2,538.5 488.5,541 481.5,540 479.5,539.2 475.5,538.9 472.5,537.9 471.2,536.5 471.1,535.5 478.7,517.5 473.9,505.5 473.9,504.5Z"/>
</g>
<path d="M380,171 377,169.4 373.8,166.5 370,165 367.1,164.9 364,164.1 360.4,164.6 357.5,163.3 354,163 350.7,162.4 347.5,161.2 343.7,160.6 340,161 337,160.7 333.7,159.9 330,160 326.5,160.3 321.5,160.3 317.8,159 314,160 309.2,158.7 306,156 301.8,154.7 298,155 295.1,155.9 291,155.9 288,156 282,155 280,151 274,150 269.7,151.3 266.1,153.2 262,154 258.5,156.9 256,160 252.9,160.1 249.7,160.8 246.2,161.8 243.3,163.8 240,164 236.6,167.3 234,170 232,175 228.5,176.5 223.5,175.4 220,177 216.5,179.1 212,180 210,183 213.7,184.5 218,186 221,186.8 224.1,188.9 228,190 229.5,193.4 232,195 236.1,197.1 240,198 243.3,199.3 246,201 250.4,202.5 255,203 250,205 246.7,206.6 243.3,206.7 240,207 234,205 230,202 224,201 220.7,202.8 218,204 214,206.2 210,207 206.3,208.7 203,211 206.4,211.1 210,213 216,215 212,218 214,223 220,224 223.2,224.9 226.8,223.3 230.5,224.1 234,224 240,222 242.1,219.8 246,219 250,222 248,226 250,232 247.3,230.6 244,229 238,230 236,235 232.6,236.4 230,238 227.4,240.7 224,242 222,245.3 220,248 217.3,250.4 216,254 216,260 222,260 226,262 222,266 226,270 230.4,270 234,271 240,270 242,276 243.9,279.6 244,284 250,286 254,283 257.8,285.2 262,288 266,284 270,284.9 274,285 273.5,289.5 272,294 270.4,297 270.2,301 268,304 262,306 258,310M278,304 280.3,300.8 282.7,298.5 286,296 289,294.7 291.1,291.6 294,290 296.4,287.1 298,284 294,280 296.3,278.1 297.8,275 300.1,272.5 302,270 304.5,268.5 307.3,265.7 310,264 312.3,261.1 315.5,260.4 318,258 324,260 321.3,261.5 318,263 314.7,266.2 312,270 311.6,273.7 310,278 314.2,275.5 318,274 322.3,272.3 326,270 329.3,271.7 334,272 338,268 334.4,266.9 330,266 332,260 338,260 340,262.6 342,266 346.5,266.8 350,268 354,266 357,268.6 360,270 363.2,269.5 366.2,271.2 370,271 372.9,270.1 376.5,271 380,270 382.9,271 387,272 390,274M178,232 184,231 186.6,233 190,234 196,236 193.6,237.6 190,239 186,236 180,235ZM156,199 158.3,196.9 162,196 166.1,195.9 170,197 174.5,197.8 178,199 181.5,200.8 184,203 187.5,204.3 190,207 184,208 178,210 172,210 174,214 170,218 170,224 164,223 159.9,221.9 156,221M207,269 212,267 218,268 217,272 211,273ZM294,298 295.9,294.9 298,292 301,290.7 304,288 307,290 304.4,293 302,296 300,300 295,303ZM242,280 244,286 246.9,287.2 250.2,287.1 254,288 258.5,286.1 262,284 266.4,284.2 270,285 269.7,288 270,292 268.7,295.6 267,300 264.6,303.5 262,306 259.5,310 256,313 253.9,315.9 250,318 244,319M299,280 298,286 295.1,287 292.7,290.8 290,292 287.8,294.1 285.2,296.6 282,298 280.9,300.8 278,303 274,305.1 270,306 266.2,308.6 262,310 259.3,313 255.7,314.2 254,317 249.7,317.8 246,320M224,329 227.7,327.1 230,324 233.9,321.3 238,320 241.8,319.3 246,317 249.6,315.3 253,315 250,319 245.8,320 242,322 238.5,324.6 234,326 230.4,329.2 227,331ZM208.4,335 214.4,335.6 211.6,340.6 209.6,338.2ZM200,341 203.6,340 203,343ZM159.6,352.4 162,351.6 162.8,354.4 160.4,355.2ZM292,299 294,294 296.9,292.2 299,290 302,287 307,289 304,294 301,299 297,303 293,303ZM381.3,170 381.3,263M382,170 385.5,170.5 389,171.4 392,171 395.2,171.4 398.7,174.6 402,175 406,175.7 410,177 413.3,178.8 417,180 415.3,177 415,173 418.6,171.6 422.4,170.3 426,170 430,174M429,174 432.4,172.8 435.2,170 438,168 441.7,167.2 444.9,165.3 448,164 454.4,164 451,168 447,170 443.6,171.5 441.7,174.6 439.4,176.7 436,178 434,182 431,178.2ZM447,170 449.7,168.9 453.4,169.1 456.3,168 460,167 464.3,165 468,163 464,159 470,161 471.4,164.2 474,167 477.5,168.4 480,171 484,173 484,167 489,168 489,172 491.6,170.1 494.6,168.2 498,167 504,167 507.8,168.6 512.1,170 516,171 519.9,172.9 523.7,174.6 528,175 532.1,175.8 536,177.3 540,177 543.5,178.7 548.2,178.9 552,180 557,183 553.1,183.6 550,185 548,188 551.9,188.5 556,190 559.9,189.5 563.8,188.5 568,189 572.3,188.9 576.1,187.8 580,188 582.9,188.8 586.4,187.7 590,189 593.1,191.5 596,193 595,197 598,199.2 601,202 602.2,198.7 603,195 600.8,192.6 600,189 603.1,187.2 606,185 609.3,182.8 613,181 616.9,180.8 620,182M595,182 598.6,180 602,178.6 605.8,178 608.4,177.9 612,176.6 613,180.6 610.5,181.7 607.1,182.3 604,184 598,185.4ZM486,119 489.3,119.7 493,118.5 496.6,118.9 500,118 503.9,118.4 507.6,116.6 512,117 516.5,117.5 520.1,120.1 524,121 527.1,121.8 531.2,120.6 534.4,120.7 538,122 541.1,123.6 544.3,125.1 547,126 543.2,127.1 540,130 536.6,131.7 532,133 528.4,135.7 524,137 521,139.1 518,142 516,147 512.1,149.3 508,150 503.9,151.2 500,153 495,150 492,145 488.1,144.8 484,143 481,142 483.4,138.9 486,137 484,134 486.8,132.4 489,129 492,124 489.2,120.6ZM620,131 616.2,130.9 612,132 606,130 602.5,128.7 599.7,130.1 596,129 598,135 600.2,137.9 602,141 599,146 595.5,143.3 594,140 592.3,137.3 590,135 584,133 582,137 578.9,138.4 575,140 572,136 567.8,135 564,135 559.9,137 556,137 558,135 556,130 550,131 546.4,132.8 543.7,133.9 540,135 536.4,137.5 532,139 530.3,141.5 527,143 530,146 534.1,147 538,148 542.1,149 547,150 546,153 542.4,154 538,153 534.3,152.7 530,154 534,158 538.1,158.4 542.4,158.2 546,158 549.7,157.5 552.9,158 556.2,157.8 560,158 563.8,158.1 566.1,159.7 569.3,160.8 573,161 570,164 566.6,163.3 563.5,162.8 560,163 556.5,161.7 553.7,162.5 550,162 546.4,162.8 541.7,162.6 538,163 536,165 539.2,167.5 542.6,168.8 546,171 549.3,173 552.6,174 556,175 559.2,176.9 562.7,177.2 566,179 569.4,179.3 573,181.3 576.4,181.5 580,182 583.6,182.6 588.1,183.3 592,184 595,182M557,112.6 560.7,115.1 564,118 568.3,119.5 572,119 576.1,116.6 580,116 584,114.7 587,112.6M600,130 603,129 606,126.6 610.6,125.6 615,126 620,128.6 616.9,130 614,133 615,139 617.7,141.9 617.5,145.2 620,148 622.4,151.8 626,155 629.3,157.4 634,159 636.7,160.7 639.5,162.3 643,164 642.7,167.1 643,171 640.4,173.3 637,176 632.9,176.7 628,177 624.9,175.8 622,174 626.3,172.2 630,170 636,171 632,166.6 628.3,167.4 625.7,168.3 622,169 617.9,171.1 614,174 610.2,172.7 606,173 603.6,175.3 600,176M600,179.4 604,178 609,177.4 612.4,180 607,182.6 603.3,182.7 600,184.6M600,186 603.9,186.3 607.6,185.6 612,185 615.1,185.1 618.5,186.4 622,187.4 626.1,188.4 629.9,188.6 634,190 637.6,189 642.4,189.8 646,190 649.8,188.5 653.9,187.3 658,187.4 662.4,188 667,189 669,185 665.7,184.5 662,183.4 665,182 668.3,183 672,184.6 673.8,189.4 676,193 681,196.6 682.8,193.1 683,189 684.8,184.3 688,181 691.8,178.1 695.6,175.4 694,172 690.6,173.9 688,176 684,174 681.6,171.5 679,169 676.3,167.3 674,164 672.5,161.2 672,157.4 674.7,155.2 676,152 678.3,149.3 682,148 686.3,146.7 690,146 693.1,148.4 696,151 697.4,153.9 698,157.4 701.8,159.8 704,163 706.7,166.2 709,169 714,171 715.2,175.2 717,180 720.5,180.5 724,182 725.4,185.6 728,189 730.6,192.4 734,194 737.2,192.8 740,191 743.2,187.9 746,184 748,178 746.7,174.3 747,171 752,168 756.5,168.5 760,169 763.3,170.1 766.9,170.2 770,171 772,176 769.4,178.3 766,180 764,185 767.5,186.9 770,189 771,191.7 774,194 770,198 766.6,201.2 762,203 758,199 755.2,197.2 752,196 748,199 743.4,200.2 740,202 738,204 744,205 748.2,204.3 752,203 755.6,205.6 758,209 754,211 750.8,210.3 747,210 744,214 742.8,218.6 740,222 737.1,225.1 736,229 734,233M634,135 637,132.3 640,131 642.6,127.9 646,125 649.7,125.3 653.1,125.2 656,124 659.1,123 662.4,124.2 666,124 671,127 667.9,128.6 666,131 660,133 664.2,135.7 668,137 671.2,139.1 674,140 672,145 669.4,146.4 666,148 660,150 657.7,147.1 656,145 653.3,143.4 650,142 647,141.4 644,139 638,138ZM643,129 646.6,127.7 650,128 648,132 643,132ZM680,127 682.8,124.8 686,123 689.3,123.6 692.5,122.7 696,122 699.9,122.1 703.6,122.5 708,123 712,125 709.7,127.4 708,130 703.9,132.9 700,134 696.5,135.6 694,139 690.9,140.9 688,142 684.9,140.5 682,139 680,133ZM655,176 658.5,173.6 660.7,170.3 664,168 667.7,169.7 671,170 673,173.4 675.1,175.2 678,178 674.5,179.3 671.9,180.4 668,181 663.8,180.3 660,180 657.9,177.1ZM662,184 668,183 669,187 664,188ZM688,174 694,173 693,177 689,177.4ZM720,135 722.1,133.2 725.5,131 727.6,129 730,127 733.2,125.5 737.3,125.6 740.8,124.3 744,124 741.8,127.5 740,131 739.5,135.3 738,139 741.5,141.4 744,145 745.5,149.7 748,153 754,151 753.9,147.1 752,143 749.6,139.5 746,137 747.6,132.3 750,129 754.1,128.3 756.3,126.2 760,125 764.1,126.2 768.2,126.5 772,126 775.9,128.5 780,129 777.2,132 776,135 776.1,139.4 776,143 782,141 785.3,139.1 788,138 790,141.2 792,144 794.2,140.4 798,138 800.4,136.3 804,135 808,139 810.7,140.6 813.6,142.2 816,145 818.3,147.9 822,150 826.4,151 830,151 833.9,151.5 836.6,152.9 840,155M720,135 718.2,139.5 716,143 717.2,145.7 720,148 721.3,150.5 724,153 722,157 726.6,157.8 730,159 732.7,160.9 736.5,161.8 740,163 738,165 741.7,165.7 745.1,165.8 748,166 751.7,166.5 755.6,164.5 760,165 763.5,164.7 767,165 770,164 776,163 778,167 772,169 767.9,168.7 764.1,168.7 760,169M778,158 782.3,158.3 786,158 788.7,161.2 792,163 794.4,165.1 798,167 800.8,168.7 803.3,170.5 806,173 809.4,175 812,177 815.6,178.9 818,181 821.5,182.1 824,185 827,187.5 830,189 832.2,191.2 833,195 831,197.7 828,199 825.6,202.5 822,205 824.2,208.4 826,213 828.8,214.8 831.1,217 834,219 837.5,221.3 840,225M800,189 803,185 809,184 814,187 813,192 808,194.6 802.4,194ZM786,174 790,172 794,173 791,176.6 787,177ZM801,171 804,170.6 804.4,173 801.6,173.4ZM807,176 811,175.4 811.6,178.2 808,178.6ZM817,185 820.5,185.6 825,185.4 826,188 822.5,188 818,188.2ZM736,184 739,182.6 740,185.4 737.6,187ZM680,112.6 683.5,114.2 688,114.6 691.6,114.1 696,113.4 700.3,114.4 704,115 708.4,115 712,113.4 715.3,115 720,115.4 723.7,115.4 728,114 732.3,115.8 736,116.4 740,117 743.7,116.9 747.7,116.5 752,115 755.8,115 759.8,116.4 764,116.6 768,115.7 772.4,115.7 776,114.6 780,112.6M776,127 779.8,127.4 783.5,125.5 788,126 792.4,125.9 796.4,126.6 800,128 803.7,129.3 806,132 803.1,134 800,135 795.7,135.5 792,137 791,139.7 788,142 783.6,142.8 780,143 776,139 775.9,135.2 775.9,130.7ZM814,148 816.4,146.1 820,145 822.6,147.2 826,148 828.9,149.8 832,152 836.5,152.6 840,154M795,221 797.8,219.1 800,216 803.8,216.1 807.1,215.1 810,215 813.7,216.5 816,219 812.7,220.8 810,224 806.4,225.8 802,227 797.8,224.3ZM816,220 820.1,222 824,223 827.7,225.1 832,227 835,228.2 836.6,231.2 840,233M828,201 834,199 840,201M711,208 715.3,208.5 720,209 724.1,211.1 728,214 731.6,215.6 736,217 732,221 728,223.8 724,225 720.8,226.5 718,229 714,233 712,235M694,229 697.5,229.2 700.8,231.2 704,231 708.2,233 712,235 709.1,238.3 706,241 700,243 703.5,242.1 708,241 704,245 700.8,247.7 698.9,250.1 696,253 694.5,255.7 691.3,258.1 690,261 689.4,264.3 688.7,267.8 687,271 685.8,274.7 685.7,277.5 685.4,281.9 686,285M736,233 738.8,231 742.2,227.9 744,225 746.4,221.2 748,217 746,211 752,213 755.2,215 757.1,217.1 760,219 763.3,220 766.3,223.2 770,225 773,226.7 775.6,229.8 778,232 774,233 770.3,230.7 766,228 761.7,228.4 758,230 754.6,232.1 752,234 748,238 745.5,236.2 743,234 739.2,234.4ZM757,245 761,243 764,241 770,240 768.8,243 766,245 763.1,246.6 760,248ZM780,251 784,247 787,248 785,254 781,254ZM795,285 795.2,281.1 796.2,277.9 798,275 798.3,271.7 799.9,268.8 800,265 798.6,261.2 797,257 796.2,252.9 795,249 797.4,247.5 800,245 804.2,244.7 808,244 812.7,244.3 816,246 820.2,247.2 824,247 830,249 832.7,251.5 836,253 837.1,256.2 840,259M800,130 803.5,132.3 806.7,133.3 805,138.3 809.5,138.3 813.3,140 814.9,142.9 818.3,145 815,149.2 818.7,148.8 821.7,148.3 825.6,148.3 830,149.2 832.4,151.8 835,153.3 838.3,155.1 841.7,155 845.7,156 848.3,158.3 851.8,158.8 855,160 851.7,163.3 855.4,164.7 858.3,165 863.3,163.3 866.7,168.3 861.7,171.7 856.7,173.3 855.8,178.3 859.2,179.2 863.3,180 865.9,182.6 868.3,185 871.2,186.2 875,186.7 877.9,187.5 881.7,188.3 882.3,191.7 885,195 888,195.5 891.7,195.8 895,196.2 898.3,197.5 901.7,198.6 905,200.8 903.3,205 898.3,208.3 893.3,209.2 892.5,213.8 890.8,218.3 886.7,215 881.7,211.7 878.3,206.7 873.3,205 868.3,201.7 863.3,201.7 860,205 861.7,210 866.7,213.3 868.3,217 871.7,220 874.9,220.9 878.3,223.3 880,228.3 882.1,231.6 885,233.3 883.3,238.3 880,243.3 877.4,239.8 873.3,236.7 869.8,235 866.7,233.3 861.7,231.7 856.7,233.3 858.3,238.3 861.3,240.2 864.5,241.3 866.7,243.3 869.1,246 871.7,248.3 873.3,252.5M803.3,185 808.3,183.3 813.3,186.7 812.3,189.9 811.7,193.3 808.9,195 805,195 801.7,190.8ZM816.7,186.7 820.4,186.6 825,186.7 825.8,189.2 822.4,189.4 818.3,190ZM803.3,175.8 807.4,176.6 811.7,176.7 811.7,179.2 808.2,178.5 804.2,178.3ZM800,168.3 803.8,169.4 806.7,171.7 809.5,173.8 814.1,174.3 816.7,176.7 819.4,178.9 821.9,180.5 825,181.7 826.7,185.2 829.3,187.9 831.7,190 830.9,193.4 831.7,196.7 828.8,199.9 825,201.7 822.8,203.8 820,206.7 823.3,211.7 819.9,213.8 816.7,215 812.8,216.6 810,218.3 807.1,217.1 803.3,216.7 800,218.3M831.7,198.3 834.5,199.5 838.3,200 841.7,195.8 844.5,198.1 848.3,199.2 853.3,201.7 851.7,205 847.9,204.4 843.3,205.8 840,203.3 835,201.7ZM800,225 802.8,226.2 806.7,226.7 810.6,225.5 813.3,223.3 816.7,222.5 820,221.7 825,220 827.8,222 830,225 832.9,226.9 835,230 840,233.3 842.4,236.5 843.3,240 846.7,243.3 841.7,245M800,245 803.2,246.1 807.2,247.1 810,248.3 814,248.6 816.2,247 820,246.7 824.8,247.8 828.3,250 832.3,251.7 836.7,254.2M933.3,112.5 934.1,115.6 936.7,118.3 938.2,121.6 940,125 942.9,126.9 945,130 947.1,132.9 950,135 945,138.3 944.3,141.2 945,145 941.7,148.3 946.7,151.7 949.7,150.1 953.3,150 955.9,148.2 958.3,145.8 962.9,145.8 966.7,146.7 967.8,149.9 970.8,152.1 971.7,155 973.2,158.6 975,161.7 975.4,165.2 976.7,168.3 973.3,171.7 969.7,172.8 966.7,173.3 962.2,171.6 958.3,171.7 955.2,171.3 951.7,170 948.3,165 951.7,160 956.7,156.7 961.1,156.9 965,158.3 966.7,161.3 970,163.3 966.7,167.5 962.4,167.2 958.3,166.7 955,163.3M979.2,175 975.4,176.8 971.7,178.3 968.3,179.4 965,180 961.6,182 960,185 963.3,190 966.4,191.5 969.8,190.4 973.3,191.7 979.2,190M960,185 958.7,188.8 956.7,191.7 958.9,194.8 960,198.3 956.7,203.3 958.5,206.4 961.7,208.3 965,213.3 967.3,216.8 968.3,220 966.7,222.7 966.7,226.7 970.8,224.4 973.3,221.7 979.2,220M970,231.7 972.7,233.8 975,236.7 979.2,240M960,151.7 963.2,151.8 966.7,153.3 968.3,155.8 965.1,154.9 961.7,155ZM712,234 710.4,236.8 707.1,239.2 706,242 703.7,244.1 700.7,246.5 698,248 694.6,250.2 692,254 691.5,257.5 688.6,260.7 688,264 686.2,267 687,270.5 685,274 684.9,278 686,282 690,282.8 694,285 696.9,288.5 698,292 699.5,295.3 701.2,298.5 702,302 706.4,301 710,301 713.9,303.3 718,304 722.1,306.7 726,309 729.1,310.3 731.1,313.8 734,315 737.3,315.6 740.4,316.2 744,318 746.7,320.1 750.1,321.1 754,322 757.4,321.9 760.4,321.4 764,322 768,326 767.8,329.7 766,334 767.3,337.9 768.5,341.1 769,345 770.2,349.5 771,354 773.5,355.3 776,358 778.6,360.7 780,363 782.9,365.6 786,368 788,364 791,360 790.2,355.8 789.6,351.9 790,348 790,345.1 790,341.5 790,338 788,332 785,328 788,325.2 792,324 794,321.8 797.6,320.3 800,318 802.4,313.7 805,310 806.2,306.2 806,302 804.4,297.6 803,294 800.2,292.4 798,290 795.6,287.6 793,285 795.8,281.3 798,278 799.7,274.3 800,270 798,264 797.6,259.7 798,256 797.9,252.2 797,248 800.2,246.5 804,245 807,245.7 810.6,245.4 814,247 817.2,246.5 820.5,247.3 824,248 826.7,250.9 830,252 833.6,254.9 836,258 839.6,259.3 844,261 847.1,261.8 851,263 850.9,267 850,270 850.7,273.8 851.4,276.5 852,280 848,284 851.8,284.1 856,285.9 860,286 862,290 866.2,289.7 870,288 873.8,285.2 876,282 878,276 880.5,272.3 884,270 887.5,272.3 890,276 892.7,279.8 894,284 897.2,286.2 900,290M770.4,345.6 775.6,343.6 778.4,348 773.2,350.4ZM783,315 786,312.2 788,309 790,309 788,314 784,316ZM757,246 761.2,243.8 764,241 770,240 768,244 764,245.8 761,248ZM780,252 781.6,249.3 784,247 787,248 785,254 781,254ZM859,265.6 861.6,266 861.2,268.4 858.8,268ZM878.4,254 882.4,253.6 882.8,256.8 879,257.2ZM834,230 836.9,233 840,236 843,237.9 846,240 844,244 847.6,243.1 852,242 856.4,242.4 860,244 863.4,246.5 868,248 871.2,249.2 874,252 872.7,248.6 870,246 867.9,243.2 864,242.5 862,240 859.3,237.3 858,234 860,230M876,230 877.2,234.7 880,238 882,244 884.5,240.3 886,236 888,230M800,244.4 803.6,244.3 807.5,246.7 811.1,246.7 814.1,246.8 818.1,246.6 821.5,245.9 824.4,246.7 828,247.5 831.1,248.9 833.3,251.1 835.9,254.3 837.8,257.8 842,258.5 844.6,261.6 848.9,262.2 849.8,265.5 852.2,268.9 852.4,272.9 851.1,276.6 850,280 847.8,283.3 853.3,285.6 856.8,286.9 860,290 863.2,288.5 866.7,287.8 870,285.8 874.4,284.4 874.8,279.9 876.7,275.6 879.5,272.1 883.3,270 886.9,273.4 888.9,277.8 890.8,280.2 893.4,283.3 894.4,286.7 895.8,289.6 897.8,292.3 900,295.6 901.9,299.1 903.3,302.2 898.9,306.7 902.1,309.6 904.4,313.3 907.1,316.1 911.1,317.8 910,323.3 913.4,324.4 917.8,324.4 922.6,325.8 926.7,327.8 929.4,331 933.3,333.3 937.8,337.8 939.5,340.3 941.1,343.3 941.4,346.6 939.7,350 940,353.3 936.7,355.7 934.4,358.9 930.4,360.3 926.7,362.2 923.7,364.9 920,366.7 915.6,371.1 912.2,372.1 907.8,373 904.4,373.3 900.1,372.4 896.9,373.2 893,373.6 888.9,373.3 884.6,372.4 881.1,372.8 877,373.4 873.3,373.3 870,374.4 867.8,376.7 864.8,379 863.3,382.2 859.5,383.9 856.7,386.7 853.6,390.2 851.1,393.3 849.6,396.7 848.4,399.9 846.7,402.2 844.9,404.7 843.5,407.8 842.2,411.1M933.3,333.3 929.4,335.1 924.4,335.6 919.6,336.9 915.6,337.8 912.2,342.2 916,340.6 920,340 924.1,338.3 928.9,336.7M851.1,240 854.5,241.8 859.2,242.2 862.2,244.4 864.5,246.8 868.1,248.7 871.1,251.1 873.5,248.1 875.6,244.4 878.6,243.9 882.2,242.2M878.9,253.8 882.7,253.3 883.6,257.3 879.6,257.8ZM858.7,265.8 861.3,265.8 861.3,268.4 858.7,268.4ZM800,291.1 801.6,295 804.4,297.8 805.2,302.5 805.6,306.7 804,310.8 803.3,315.6 800,317.8M440,330 443.6,331.4 446,334 449.4,336.1 452,338 454.3,341.5 455,345 460,343 462,349 465.5,350.6 470,351 473,353 470.3,356.4 467,359 469,364 473.1,365.1 477,367 479.9,368.5 483,370 487,373 488,377 493,380 498,382 497,388 500,392 503,396 503.6,401 500,404.4 498,400 495,396 492.4,393 489,391 487,396 488.7,399.6 489,404 490,408.5 492,412 493,417 493.5,420.8 492.4,424 491.2,428 490.5,432 491,436 490.4,439.9 489.5,444.1 489,448 487.6,451.5 488,456 490,461.6 490.7,465.4 490.3,468.4 491,472 491.5,475.6 492.4,480M463,369 465.9,367.5 470,367 475,368 477.4,370 481,371 483.6,373.2 486,376 487.9,379.8 491,384 494,388 490,388 486.9,387.5 484,385 481.2,383 478,381 474.7,379.8 472,377 468.6,375.3 466,373ZM493,417 498,420 502,424 508,422 511.6,422 516,421 519,421.4 522.6,420.1 526,420 529.4,419.1 533.8,420.5 537.4,420M537.4,388.2 537.4,420 540,425 537.8,428.7 537,432 535.6,438 537.4,444 536.6,447.3 537.1,451.2 537.9,454.8 536.6,458.2 537.4,461.6M543,388.2 542.4,391.2 542.3,394.6 543,398 545.4,400.8 547,404 548.8,407.1 551,410 552.6,413.1 555,415 554.4,418.9 554,422 556.1,424.8 558,428 559.1,431.4 562,434 566,437 572,436 573.6,432.8 576,431M667,388.2 667.1,392 668,396 668.4,400.3 670,404 671.1,408 672,412 670.6,415.9 671,420 672.8,423.7 673,428 672.8,432.5 672,436 672.1,439.9 671.5,444.3 672.8,448.2 672,452 674,456M660,451 666,453 672,455 674,460 676,466 678,472 680,476M498,387.6 681.1,387.6M490.1,461.7 576.5,461.7M517.7,461.7 517.7,493.5 553.2,534.8M556.8,461.7 556.8,514.7M576.5,461.7 576.5,429.9 622.6,429.9 622.6,472.3 576.5,472.3 577.4,468.7 576.1,464.8 576.5,461.7M622.6,387.6 622.6,429.9M622.6,420 671.8,420M622.6,451.1 659.1,451.1M589.7,472.3 589.7,574.7M622.6,472.3 625.8,471.4 629.2,471.7 632.8,472.1 635.7,472.3 635.7,514.7M635.7,482.9 680.1,482.9M556.8,514.7 684.6,514.7M492.4,460 490,462 490.5,465.4 489.8,468.3 489,472 489.4,475.7 491.3,478.6 492,482 493,484.9 494.2,488.1 495,492 497.5,495.3 497.7,498.7 500,502 503,504.8 504,508 502,511 505,514 506,520 508.7,523.4 510,528 510.7,531.7 512.9,534.9 514,538 516.7,540.3 520,541 523.2,544 528,546 530.1,548.8 531.4,551.7 534,554 536,560 537.7,563 540,566 540.6,570.2 542,574 542.1,578.3 544,582 546,585.4 546.6,588.3 548,592 549.2,596.4 552,600 554.4,602.4 556,606 554,612 551,614 555,618 558.1,619.9 560,622 561.2,625 564,628 565.6,631.1 568,634 569.7,637.2 571,640M551,564 551.9,567.7 552,572 551.7,576.4 553,580 554,584.5 556,588 557.3,592.6 560,596 561.5,600 564,604 565.3,608.6 567,612 568.4,616.3 570,620 572.6,623.7 574,628 576.1,632.2 578,636 579,640M555,566 557.2,569.1 558.9,573.2 562,576 564.8,580 566,584 567.4,588.4 568,592 571,595.8 572,600 573.8,604.4 576,608 579.7,610.3 582,614 584,620 585.9,622.8 588,626 589.8,629.9 590,634 592.5,637.3 594,640M536,560 539.2,560.3 542,561.8 545.4,561.6 548.9,563.9 552,564 555.1,564.7 557.5,567 561.1,567.4 563.5,570.2 566.5,571.5 570,573 572.6,574.3 576,575.6 579.1,575.5 582.5,575.2 585.7,576.4 589.6,575.4 592.9,574.8 596,575.6 596,570 599.5,570.5 602.7,570.3 606,569.2 607.8,573.3 610,576 613,579 616,582 617.3,586.6 620,590 622.9,592.9 626,596 632,598 634.6,594.8 636,592 640,590 642,593 644,596 645.8,599.6 648,604 648.8,607.8 650.5,610.9 652,614 653.1,617.5 655.1,620.5 657,624 659.5,628.2 662,632 664.7,633.9 668,636M668,636 667.4,633.3 667.4,629.5 667.1,626.2 667,623.2 667,620 667.4,615.8 668.4,612.1 670,608 672.5,605.3 675,603 680,600M556.4,515 556.2,519.2 556,524 552,526 552.4,530.2 553,534 554.4,536.8 554.3,540.7 556,544 554.9,548 554,552 553,555.8 552,560 551,564M649,540 653,541.5 656,544 660.3,545.5 664,546 668.3,547.1 672,548 676.5,547.4 680,547M629.5,514.7 629.5,567.6 626.3,568.3 622.8,567.1 618.9,567.5 616.4,568.2 612.4,568.6 609.4,566.7 605.8,567.6M629.5,520 632.7,520 636.4,520 639.4,520.7 643,519.9 645.7,519.9 649.2,520 649.2,523.6 649.7,527.1 649.5,529.8 648.8,534 648.4,537.6 649.2,540.5M681.1,387.6 681.1,383.6 683.4,384.4 685,387.9 684.7,390.8 690,392.4 695.2,391.8 699.8,395 702.8,397.2 705.8,397.7 709.7,396.1 715.6,398.2 718.2,398.2M672.5,445.8 706.9,445.8M672.5,445.8 673.2,450.8 671.9,455.4 674.1,459.2 674.8,462.8 675.9,466 676.2,470.2 676.4,473.7 677,476.8 678.5,479.8 680.1,482.9 682.7,485.5 684.6,489 684.6,492.4 685.6,496 685.4,499.3 684.4,502.5 684.1,506 683.8,509.5 684.2,513 684.9,516.1 684.6,520M677,476.8 679.9,477 683.6,476.6 686.7,476.3 690.7,476.6 693.4,477.2 697.1,476.8 700.4,477 703.6,476.5 705.6,478.9M701.2,411.9 701.4,415 699.8,418.3 697.7,420.4 696.2,423.6 696.4,427.7 696.9,432.6 701.8,436.3 703.8,438.9 706.4,441.6 706.9,445.8 708.2,449.2 707.7,453.8 710.7,456.4 714,461.7 713,466.5 708.1,470.2 708.4,474.4 705.6,478.9 705.1,484 707.2,486.9 707.7,490.1 710,493.5 713.6,496.1 712.7,502 714.3,505 716.1,508.6 717.9,511.5 720.7,514.7 718.9,520 716.9,525.3 716.9,528.4 714.4,531.6 714.3,534.8 711,540.1 710,544.1 707.7,547.5 707.8,551.9 707.3,557 708,560.7 708.4,564.4 707,568.2 706.7,571.9 705.6,575 704.4,578.2 708.5,578 712.9,578.6 716.7,578.2 716.3,582.4 717.6,586.7M710.7,456.4 714,455.6 718,456.1 722.4,456.3 725.4,456 729.4,456.4M684.6,520 687.7,519.8 691.1,519.8 694.6,519.2 697.9,520.2 700.6,519.8 704.5,520.4 707.7,520.7 710.5,519.2 714,520 712.5,525.3 716.9,525.3M685.8,520 685.4,523.4 686.3,527.6 685.8,531.6 685.2,534.9 686.1,539.2 686.6,542.6 685.1,546.5 685.5,550.3 688.4,551.2 687.9,554.4 688,557.9 688.1,562 689.3,565 688.4,568.7 689.6,572.2 690.7,574.7 690.6,578.2 689.4,581 689.3,584.3 689.8,588.1 689.6,591.4M688.4,557 692,557.4 696.3,557 700.1,556.4 703.2,556.2 707.3,557M659.1,545.4 663,547.5 667.6,549.1 672.2,548.6 675.5,547.5 678.8,547.5 682.3,548.5 685.5,550.3M718.2,520 722.8,519.1 727.8,520 727.8,518.4 731,517.4 735,518.8 738.1,518.5 741.7,519.2 745.6,519.1 748.9,519.5 752.5,518.5 756.5,518.9 759.9,519.8 762.7,518.6 766.1,519.7 769.5,518.9M713,535.9 752.4,535.9M752.4,535.9 754.5,532.9 757.7,530.5 760.3,528.4 763.7,525.4 767.6,524.2 769.5,518.9M726.8,535.9 725,568.7 724.3,571.5 724.9,575.5 724.8,578.9 725.5,582 725.5,585.1M743.9,535.9 744.1,539.1 745.4,542.3 745,545.4 745.1,549.2 745.8,551.9 746.3,555.5 746.7,558.5 747.5,563.4 747.5,567.6 747.3,571.4 747.5,574.3 747.8,578.2 748.8,581.4M730.7,578.2 734.5,578.5 737.9,578.5 741,577.5 744.9,578.6 747.8,578.2M730.7,578.2 732,581.5 731.7,585.6M748.8,581.4 752.1,581.1 755.6,582.2 759.4,583.1 763.1,582.9 766.3,582.8 767.2,585 771.2,581.4M760.3,535.9 758.7,539 762.6,543.8 763.6,547.2 766.3,550.7 768.8,553.9 770.9,557 771.4,560.7 773.2,563.2 773.5,566.6 774.8,567.1M752.4,535.9 756.1,536.6 760.3,535.9 764.9,533.7 769.4,533.1 773.8,534.3 774.8,537.4 778.3,537 782.7,538 785.5,541.2 787.7,545 790.3,547.8M769.5,518.9 807.7,519.4M720.7,514.7 724.8,513.6 725.7,509.7 727.5,505.7 730.3,506.5 734,505.7 737.3,505.1 741.3,504.1 743.4,500.9 744.9,496.7 749,492.4 752.4,495.6 756.4,497.2 759.6,499 763.6,499.6 766.3,497.7 768.7,494.8 769.5,491.4 772.5,489.3 775.1,486.1 776.2,482.3 776.4,478.7 777.3,476.1M763.6,499.6 765.1,502.7 766.3,506.1 767.6,508.8 763.9,510.8 762.3,513.6 758.8,516.5 756.5,518.9M731.2,464.3 731.8,467.5 731.8,471.1 731.2,474.9 730.4,479.2 730.5,482.5 731.3,486.3 731.2,489.8 730.4,494.5 729.7,498.4 729.5,502.2 727.8,505.7M731.2,464.3 734.5,464.4 738.3,463.6 742.4,465.1 745.3,464.7 749.1,464.3 749.4,468.2 749.6,471.4 748.6,474.6 748.2,478.1 748.1,482.1 749,485.5 748.3,489.3 749.1,492.4M749.1,464.9 753.3,463.8 758,464.6M777.3,461.7 778.3,465.1 776.9,468.5 777.2,471.7 777.9,475.3 777.8,479.2 776.7,482.2 777.3,485.9M777.3,485.9 808.3,485.9 809.7,484.5 811,485M784.1,485.9 784.1,491.4 787.9,489.9 791.2,487.1 795.2,491.9 795.7,490.1M795.2,491.9 791.6,495.1 787.9,497.1 785.3,499.8 783,503.2 780.6,505.6 778.7,509.4 775.6,509.6 772.4,512.5 769.5,512.6 767.6,508.8M795.7,490.1 799.1,494 800.1,496.7 798.5,499.8 801.1,502 805.1,504.6M782.3,458.9 782.3,461.7 785.7,462.7 788.3,460.8 792.2,462.3 795.6,462.4 798.7,462 801.5,461.5 804.7,462 808.5,462 811.3,461.7 813.7,465.4 815.6,468.6 812.7,472.8 812.3,476.5 815.2,480.8 811,485M815.6,468.6 817.7,470.8 820.8,472.4M815.6,429.9 818.9,429.1 822.7,430.1 826.3,429.3 829.5,429.6 833.3,429.2 836.6,429.9 837.3,427.3 840.9,426.8 843.8,421.5 844.2,418.5 846.3,415.5 846.5,411.9 849.3,408.7 851.5,404 853.7,406.7 857.7,405.1 860.9,408 861,412.3 860.6,416.3 861.1,420.4 862.8,423.4 863.2,426.8 866.2,431.5M824.5,429.9 823.6,433.3 824.4,437.2 824.1,440.5 825.1,444.8 825.3,449.4 825,453.8 824.4,457.2 823.5,461.2 823.6,465.3 823.6,470.2 822.5,472.3M825,453.8 828.2,453.1 831.8,453.7 834.6,453.3 837.9,454.3 841.2,452.5M823.5,461.2 827.3,461.5 831,461.6 834.6,461.5 837.3,461.5 839.1,467M834.6,461.5 833.7,465 834.6,469.1M830.4,454 831,451 832.2,447.3 833.2,444.5 833,440.5 834.2,437.3 835.4,433 836.6,429.9M841.9,450.1 839.9,444.8 839.3,441.5 839.6,437.8 840.3,433.8 839.3,430 839.7,426.8M730.7,428.9 728.8,425.8 727.5,421.5 722.9,419.4 718.3,418.4 714.3,416.2 712.3,413.3M808.3,485.9 808,489.5 809.3,492.4 808.2,496.1 809,499.3 813.3,499.3M701.2,411.4 703.7,409.8 706.2,407.5 708.4,404.5 711.1,401.6 715,400.3 719.6,397.7 720.2,393.9 724.2,392.9 726.8,388.1 732.7,389.7 738.6,390.2 740.1,394.4 741.9,398.2 744.9,398.6 748.5,399.2 749,402.4 749.8,405.6 751.1,409.8 751.8,414.1 747.8,411.4 744.6,412.9 740.6,412.5 734.7,414.1 732.1,414.1 728.8,409.8 730.1,404.5 724.8,406.1 721.5,409.8 716.3,410.9 712.3,413 709,409.3 705.1,411.4ZM731.2,465.4 730,460.7 729.4,456.4 730.2,451.1 729.1,446.9 730,443.9 731.4,440.4 731.4,437.4 732.7,431.5 734.7,427.3 731.4,432.6 728.4,434.7 730.7,428.9 733.4,426.4 734.7,422.5 738,420.9 743.9,418.8 749.5,421.5 747.8,422.5 745.2,427.8 743.9,432.1 739.6,433.1 737.8,436.7 738,440.5 738,444.5 738.6,449 738.4,453 739.9,457.5 737.3,462.8 734.7,465.4ZM749.5,421.5 753.8,424.7 758.4,428.9 758.3,433.6 759,437.4 755.1,441.6 757.7,444.2 761.3,440 761.8,443.6 762.7,448 764.6,451.1 767.9,449.6 769.5,446.9 770.4,443.5 769.5,439.5 772.2,434.2 770.7,431.2 770.2,427.3 772.4,430.5 774.8,434.2 780.7,435.2 782,431.5 780.5,427.9 778.1,425.7 776,423.5 774.1,420.4 770.9,420.1 767.6,418.3 763.7,418.2 759.7,417.2 754.4,416.2 751.8,414.1M764.6,451.1 764.3,455.4 760.3,459.1 760,461.7 758,464.6 763,467 765.8,467.4 769.5,467 773.8,464.3 777.4,461.7 782.3,458.9 784.8,455.3 788,452.7 786.6,452.7 782.7,453.5 779.4,453.2 778.1,455.9 772.2,454.8 769.6,457 766.3,458.8 764.3,461.7 760.3,461.2M788,452.7 787,448.5 790.1,447.7 793.9,447.2 797.1,446.9 800.4,448.3 805.7,445.3 805.7,439.5 803.7,438.4 800.5,440.8 797.2,441.1 793.5,440.6 790.6,441.6 787.8,442.9 784.7,444.2 782,448 787,448.5M803.7,438.4 805.8,436 808.6,433.6 811.6,431.5 815.6,429.9 819.3,427.5 823.5,424.7 825.7,421.9 827.3,418.5 830,416.2 833.5,415 835.6,412.9 838.6,410.9 842,408.2 845.2,404.5 847.4,401 848.5,396.6M838.6,410.9 843.2,408.8 845,405 847,402.3 849.8,399.2 853.2,396.4 856.3,392.9M866.2,431.5 863.4,433.9 860.1,435.1 858.3,437.4 853.1,439.5 849.2,441.7 845.2,444.2 843.4,447 841.9,450.1 841.2,455.4 842.5,454.8 839.9,458 842.2,462.2 843.2,464.4 846.5,463.8 846.8,461.2 845.2,460.9 846.8,464.9 842.5,466.5 839.2,467 837.3,467.5 833.3,469.1 830.1,468.7 826.8,470.2 822.5,472.3 820.2,475.5 820.2,478.1 819.2,482.1 819.5,485.5 817.5,489.3 814.3,494 811,489.3 810,487.1 811,490.3 812.9,495.6 813.3,499.3 811.6,504.1 810.5,507.5 808.3,510.2 807.4,513.1 808.1,509.5 809,505.1 807,500.9 805.7,495.6 806.4,489.3 807,487.7 804.4,491.4 803.7,495.6 804.4,500.9 805.1,504.6 805.1,508.3 805.1,514.7 807,515.7 807.7,519.4 808.7,523.1 809.3,526.9 808.9,529.8 810.3,533.2 807,535.9 803.7,539.6 799.1,540.1 796.8,543.2 794.5,547.5 790.3,547.8 787.3,551.7 785.3,555.4 781.4,560.2 777.8,563.9 774.8,567.1 772.8,572.9 771.6,577.1 771.2,581.4 771.9,584.8 772.2,588.8 773.8,591.9 774,595.8 774.8,599.4 777.1,605.2 778.3,608.7 778.9,611.5 778.4,615.3 779.8,618.6 780.5,622.7 779.7,626.6 780.2,629.6 779.9,633.3 778.2,636.5 778.1,639.6 773.5,640.7 773.1,636.5 772.2,633.3 768.9,630.1 767.2,625.3 765.6,621.6 763.4,618.1 763,614.2 764.3,611 762.3,610.5 762.6,604.7 763,599.4 760.3,597.3 758.1,593.3 757,589.9 753.8,587.7 752.1,589.3 747.8,593 745.5,592 743.2,587.2 738.6,584.6 734.9,586 731.7,585.6 728.1,586.2 728.1,581.4 727.5,585.1 725.5,585.1 719.6,585.6 717.6,586.7 716.3,588.3 718.9,590.9 718.8,594.9 720.5,599.4 718.9,599.9 715.6,596.2 713,598.3 708.4,598.3 705.1,594.1 700.5,593.6 695.2,591.4 689.6,592 685.4,594.1 683.4,596.2 680.1,600.4 676.6,602.5 674.2,605.7 671,607.8 668.9,611 667.1,613.8 667,617.4 666.6,622.7 667.9,627.2 667.9,631.7 666.1,634.5 665.7,638.1 665,641.8 664.9,645.4 663.8,648.8 664,652.3 663.1,655.9 664.8,659.3 664.7,662.3 663.7,665.8 663.7,669.3 664.1,673 664.7,676.9 666,680.6 667,684.1 668.1,687.3 670.1,689.8 670.8,693.3 672.3,696.8 672.9,700 674.8,703.2 678.1,708.5 683.4,710.6 686,714.3 688.6,713 691.9,711.6 697.2,709.5 702.5,709.5 706.4,706.3 708.4,704.1 710.4,701.1 711.7,696.3 711.4,692.1 712,687.3 713,684.1 717.6,680.9 720.8,680.2 723.6,677.8 726.8,677.8 730.5,677.4 734.7,678.3 736.3,682.5 735.6,685.9 733.5,688.2 732.1,691.5 730.9,695.1 731.7,698.9 731.9,702.5 730.6,705.3 730.1,708.5 726.8,710.6 727.5,715.9 726.8,719.4 726.8,722.5 726.1,726.5 724.2,730.2 723.2,733.7 722.2,738.1 726.8,740.2 731.4,739.2 734.5,738.8 738.2,738.5 741.3,738.1 744.7,737.3 747.8,737.6 750.6,739.1 754.4,740.2 758.4,745 760,747.6 758.5,751.2 758.8,755.2 757.7,758.2 758.5,761.9 756.8,765.5 757.4,768.8 756.2,772.3 755.9,775.4 756.4,779.4 755.7,782.6 756.1,787 756.4,790 757.5,794.1 758.4,797.4 761,801.7M820.8,476.5 824.4,475.6 826.7,473.2 830.5,473.2 833.3,471.8 834,471.6 829.4,472.8 826,472.2 822.1,473.4ZM551.9,569.7 554.8,571.4 557.9,572.9 559.9,574.3 563.1,576.1 563.8,579.8 564.6,582.9 566.2,586.5 566.7,589.8 567.3,592.7 569,596.2 570.5,599.7 572.2,602.8 574.4,605.2 575.5,608.6 577.5,611 579.5,613.6 580.6,616.4 583.5,618.2 585.1,621.9 587.4,623.7 588.5,627.5 588.6,631.8 590,635.4 592.2,638.3 593.4,640.4 595.6,643.1 597.2,646 599.9,648.7 601.2,652.1 602.3,655.1 605.6,657.7 607.1,660.8 609.1,664.9 611.7,668.2 613.5,671.8 613.9,674.7 614.3,678.8 613.4,683.2 614.3,688.3 611.7,690.5 612.3,694.1 615.5,697.7 616.3,701.1 620.9,704.8 623.4,709.4 626.2,712.7 631,713.8 634.7,716.4 637.3,718.5 640.3,721.1 642.6,723.3 646.6,725.9 649.9,728.1 652.5,730.8 656.1,731.1 659.1,733.9 662.4,735.7 664.9,738 668.3,738.6 672.2,740.8 674.9,737.9 677.7,737.6 680.8,735.5 684.5,735.6 687.3,734.9 690.4,737.9 692.5,741.5 695.2,744.5 697.3,747.2 698.1,750.6 700.5,752.9 704.3,755.7 707.1,759.3 710.2,760.5 714.3,760.9 717.5,763.9 721.5,765.7 725.3,765.6 729.4,766.7 731.4,769.9 734.1,772.6 734.3,775.8 736.7,778.4 737.7,781.8 741.6,784.5 742.6,787.9 743.2,791.1 742.3,795.5 742.3,800.6M700.5,752.9 700.1,749.4 700.5,745 702.1,740.8 703.5,736.5 708.1,736.7 712,736.3 711,733 708.7,730.5 707.3,727 705.4,723.8 708.4,723.8 708.4,717.8 712.2,718.2 716.6,717.5 720.5,717.8 721.2,720.9 720.4,724.7 721.3,727.9 720.6,731.2 721.4,734.9 720.5,738.1 722.2,738.1M720.5,717.8 723.5,714.9 726.1,711.1M719.2,753.8 720,749.9 720.5,746.6 723.4,744.4 726.1,740.8M714.3,760.9 716.3,757.4 719.2,753.8 721.7,756.8 724.8,758.5 729.8,759.8 729.1,762.8 729.4,766.7M732.7,768.8 735,765.4 736.7,760.9 742.6,759.8 744.7,755.5 747.8,751.9 750.9,751.4 754.4,750.3 760,747.6M743.2,789 748.5,790.5 754.4,792.1 756.7,790.8M748.2,675.1 751,672.3 752.9,669.9 754.4,666.1 759.7,662.9 764.9,661.3 768.8,661.5 772.8,661.9 777.4,663.5 780.6,666 784,669.3 787.5,670.6 791.9,670.3 794.5,671.5 796.6,675.3 799.1,676.7 801.7,678.2 804.6,680.2 807,682.5 809.7,687.3 812.5,689 816,691 819.2,692.1 815.6,693.4 813.6,695.8 808.3,695.2 803.7,695.1 800.1,695.4 795.8,696.3 796.9,692.6 799.8,689.4 796.6,687.4 793.2,687.3 792.7,684.3 790.6,680.9 787.8,678.5 784,676.7 780.6,675.2 777.4,673 773.1,671.5 768.9,671.4 766.3,668.8 761,671.4 755.1,673.5 751.1,675.6ZM760.3,674.6 763.6,674.6 764,678.8 761,678.8ZM791.6,712.7 797.2,710.6 800.2,713.1 805.1,714.3 805.4,716.9 802.2,717.9 799.1,718.5 793.9,715.9ZM817.2,712.2 817.5,709 820.7,709.4 824.1,710.1 827.4,710.9 830.7,710.1 828.1,704.2 825.5,701 824.1,696.8 828.7,695.8 831.8,696.1 835.3,696.8 838.9,696 841.9,696.8 847.1,698.4 851.7,702.1 855,705.8 857.3,709.5 855,713.8 850.8,711.9 847.1,711.1 842.5,713.8 840.6,716.5 839.2,719.6 837.3,720.1 835,715.4 830,713.8 825.5,713.7 821.5,715.4ZM835,697.9 834.3,702.2 835.2,705.4 835.3,709.5 835,715.4M864.6,711.6 868.5,711.3 871.5,711.5 875.1,711.6 875.4,715.9 871.7,716.6 868.1,717.2 864.9,716.4ZM792.6,639.6 795.5,644.9 795.8,651.3 792.6,649.2 791.2,643.9ZM788,623.2 791,622.8 794.5,623.7 796.5,624.8 793.4,625.8 789.9,625.9ZM797.2,621.6 800.1,625.9 800.4,631.2 798.8,629 798.1,625.1ZM802.4,636.5 804.3,640 806,643.3 805.7,646 803.7,643 803.4,639.6ZM808.3,646 811,650.2 811.3,651.3 809.7,650.8ZM811.6,656.6 812.8,659.4 814.6,662.9 814.3,664 812.3,659.8ZM818.2,665 820.8,668.2 821.2,670.3 818.9,670.3ZM822.1,682.5 826.8,680.9 826.1,684.6 822.5,684.6ZM832.7,674 836.6,676.2 835.3,676.7ZM899.6,723.3 901.3,723.9 901.2,727.5 899.5,726.9ZM901.3,732.3 903,732.9 902.8,736.5 901.1,735.9ZM902.6,740.8 904.3,741.4 904.2,745 902.4,744.4ZM904.9,749.2 906.6,749.9 906.5,753.5 904.7,752.8ZM904.9,757.2 906.6,757.8 906.5,761.4 904.7,760.8ZM903.6,764.1 905.3,764.7 905.1,768.3 903.4,767.7ZM900.3,776.2 902,776.9 901.8,780.5 900.1,779.8ZM914.4,765.1 916.1,765.8 916,769.4 914.3,768.7ZM899.7,793.2 906,792.1 904.9,795.9 905.7,799.5 899.7,800.1 899.7,796.9ZM900.1,801.7 898.5,797.6 897.1,794.2 899.1,793.2 896.2,792.8 892.5,793.2 888.3,794.7 884.6,795.3 881.3,799 877.5,799.5 874.1,798.5 871.5,794.2 867.3,793.9 864,794.6 859.6,795.3 857.7,791.1 857,787.9 852.8,786.8 848.5,784.7 847,781 846.5,777.3 844.5,781 845.2,785.8 842.1,788 837.9,790 836,790.5 834,787.5 833.7,783.7 837.9,779.4 835.3,774.7 833.7,777.7 832,780.5 829.4,783.6 826.8,785.8 822.3,785.5 818.9,786.8 814.3,789.5 810.3,794.2 809.1,797.8 809.7,801.7M836,790.5 837.1,794.3 837.9,797.4 836.6,801.7M837.9,790 839.2,793.8 838.4,797 839.6,800.6M280.6,697.3 281.9,691.8 286.2,695.2 288.8,700 284.2,704.2 283,706.2 281.6,702.1ZM276.3,684.6 279.3,684.6 280.9,686.8 278.3,688.6 277.3,686.2ZM272.4,682 276,682.2 274.4,683.3ZM266,678.3 268.1,676.7 270.1,680.9 267.1,680.9ZM256.1,672.5 257.9,671.1 259.2,673 257.9,674.8ZM382.1,263.1 382.1,268.4 386.2,268.9 389.6,271.1 394.9,270.2 398.4,274.7 402,275.8 405.6,278.2 408.9,276.7 412.7,275.6 417.1,272.9 421.6,276.4 423.9,280.4 426.9,283.6 428.3,286.8 430.5,288.7 432.2,291.6 435.1,295 437.6,298.7 440.3,302.3 442.9,305.8 444.9,308.9 448.2,311.1 452.7,314.7 453.1,318.8 453.9,323.6 450.9,327.1M370,271.1 373.6,271.7 377.1,272 380.5,273.6 384.2,274.7 387.5,273.1 391.3,272.9 396.7,275.6 399.1,277.4 400.9,281 403.8,282.7 407.1,284.5 410,284.4 408.2,289.8 413.6,288 413.2,291 411.8,294.2 417.1,293.3 418,299.6 423.3,298.7 422.5,301.7 421.6,304.9 427.8,304 428.7,310.2 432.2,308.4 431.3,314.7 436.7,313.8 435.8,320 441.1,319.1 440.2,324.4 434,323.6 432.3,321.3 430.4,318.2 428,315.1 425.1,313.8 424.4,310.7 423.3,307.6 418,305.8 417.3,302.6 416.2,299.6 411.8,297.8 410.6,294.5 410,291.6 406.4,287.1M415.3,278.2 418.2,280.4 420.7,283.6 418,287.1 423.3,288.9 424.6,292.5 426.9,295.1 423.3,296 427,297.2 430.4,299.6 434.9,304 432.2,306.7 435.4,307.9 439.3,309.3 441.3,312.4 443.8,314.7 442.9,319.1M432.2,334.2 435.2,334.8 438.4,336 440.3,339 441.1,343.1 441.9,347.2 442.9,351.1 438.4,346.7 436.6,342.5 434,339.6ZM450.9,338.7 455.3,336.9 458.9,341.3 457.1,344.9 462.4,346.7 466,350.2 469.6,349.3 472.2,353.8 467.8,357.3 465.6,359.8 464.2,362.7 466.9,366.2 469.6,362.7 472.5,364 474.9,366.2 480.2,368 482.7,370.6 485.6,371.6 487.3,376.9 490,379.3 492.7,380.4 498,382.2 499.1,385.9 501.6,389.3 501.2,393.5 502.4,396.4M464.2,368 466.9,370 469.6,371.6 472,374.9 474.9,376.9 476.5,380 479.3,382.2 482,386.7 476.7,384 474.6,380.9 471.3,378.7 469,376.1 466.9,373.3ZM453.6,339.6 452.7,344.9 454.8,346.6 458,348.4 460.7,353.8 466,355.6M570.9,639.6 570.8,643.8 569.6,647 573.6,649.2 577.2,651.6 578.2,655.4 581.5,657.6 582.2,661.5 584.1,664 587.1,660.8 586,656.3 585.4,652.3 580.8,650.2 579.3,647.3 578.8,643.9 578.8,639.6M866.2,431.5 866.2,428.9 869.2,427.5 872.8,427.3 876.7,426.2 879.4,423.6 882,420.9 884,420.9 883.3,425.7 888.6,425.7 882.6,426.5 880.3,429 876.2,431.4 874.1,434.2 872.1,436.6 871.5,440.5 872.1,443.2 875.4,446.9 878.3,444.8 880.7,441.6 882.9,438.7 886,436.1 888.6,434.2 891.7,432.2 895.5,430.7 899.1,429.9 902.4,428.4 905.7,426.8 902.4,422.5 899,421.7 895.8,422.5 890.5,421.5 885.9,419.4 882.6,416.7 881.3,411.9 880,407.7 879.4,405.6 880,400.3 874.8,401.4 870.2,397.7 874.1,396.6 877.7,396.3 880.7,396.1 884.6,392.9 884.6,389.2 881.8,387 879.4,385.5 875.8,385.2 872.8,385.5 869.8,386.6 866.2,388.1 862.5,389.7 859.6,391.3 856.3,392.9M902.4,423.1 906.7,423.9 910.3,423.6 913.6,419.4 911.9,416 910.9,413.7 910.3,409.8 909,408.8 905.7,413 905.5,416.4 903.9,420.2ZM883.3,411.9 885.9,408.8 888.8,412 891.2,414.6 894.8,414.3 899.1,414.6 895.8,419.4 892.7,418.8 889.2,417.2 885.3,414.1ZM882.6,378.1 886.3,379.2 889.3,379.2 892.5,379.6 895.4,382.2 898,385 901.1,386.5 895.8,386 892.1,384.8 888.6,383.4 883.3,380.2ZM916.8,402.4 920.8,401.9 925.4,401.4 929.1,400.8 931.7,401.7 934.9,401.2 938.5,402.4 940.7,406.1 942.5,409.8 945.8,405.6 951.7,404.5 950.2,407.8 950.4,410.9 954.3,413 957.6,412.5 958.3,409.2 958.4,406.2 960.2,402.9 959.6,397.1 955.6,398.2 956.5,394.4 957.6,390.8 952.4,388.6 954.3,383.4 950.4,380.2 945.6,381 941.8,382.3 940.3,379.3 939.2,375.9 933.9,379.1 934.5,375.9 936.1,372.2 937.9,369.6 939.5,366.2 939.7,362.9 941.8,360.1 937.7,361.3 933.3,363.2 931.4,367 929.3,371.7 927.4,375.9 926,380.2 925.4,382.3 922.8,387.6 920.3,389.5 917.5,392.4 922.1,395 919.5,397 916.8,399.2ZM848.5,396.6 851,392.9 853.9,390.5 856.3,387.6 860.3,385.5 863.6,383.9 865.2,380.5 868.1,378.4 870.2,374.9 874,373.9 878.4,374.4 881.7,374.4 885.9,373.8 889.9,373.8 893,373.7 896.9,374.3 900.4,374.9 904,375 908.6,374 912.2,373.8 915.6,371.4 918.4,369.4 920.8,366.4 924,364.6 928.2,363.5 931.3,362.2 933.9,359.5 936.1,357.7 939.2,355.8M867.7,545.7 870.3,545.7 870.3,548.3 867.7,548.3ZM911.7,439.7 914.3,439.7 914.3,442.3 911.7,442.3ZM881,717.7 883,717.7 883,719.7 881,719.7Z" fill="none" stroke="#000" stroke-width="2.3" stroke-linejoin="round" stroke-linecap="round"/>
<path d="M274,144.4 378,165 379.6,165 379.6,262 398.3,270.7 419.3,271 451.7,313.3 451.7,335 438.3,335 426.7,325 386.7,281.7 346,271.6 340,282.4 321,283 295,314.4 280,304 265,323 196,356 196,335 263,303 268,292.4 248,292.4 220.4,272 215,282.4 203,271 215,262 209,250 234,229 208,229 196,208 221,197 209,187 209,176.4ZM484.4,377.5 728.3,377.5 759,418 766.7,426 768,445 760.5,462.5 767.5,462.5 781.7,450 787,442 799,441.6 806.8,430.4 834.5,430 842,418 853.3,399.5 859.5,398.2 866.8,415.4 872.4,431.2 872.9,441.5 846.3,451.5 853.3,472.5 827,482.6 813.5,514.5 812.5,538 774.7,577.3 785.3,638.7 788,642 767,642 761,620 754.7,599.5 694.7,599.5 674.7,610.7 666,639 655,630 642,599 623,599 610,578 576,578 518,557.6 484.4,484Z" fill="none" stroke="#ff0" stroke-width="1" shape-rendering="crispEdges"/>
<path d="M373.6,164.7 468,155.6 472,155.6 886,261 912,313 941,341 964.4,397.5 958.5,419 932.5,409.2 872.9,450.8 858.8,409.5 853.3,409.5 840,430.3 813.3,430.3 786.7,451.3 759.2,418.3 701.7,388.2 491,388.2 484.4,398 433.3,345 426.7,325 445,325 445,315 418.3,281.7 403.3,281.7 373.6,270.7Z" fill="none" stroke="#0ff" stroke-width="1" shape-rendering="crispEdges"/>
</g>
<rect x="156.5" y="112.5" width="822" height="689" fill="none" stroke="#000" stroke-width="1"/>
<rect x="1010" y="791" width="42" height="11" fill="rgb(0,0,143)" shape-rendering="crispEdges"/>
<rect x="1010" y="780" width="42" height="11" fill="rgb(0,0,159)" shape-rendering="crispEdges"/>
<rect x="1010" y="770" width="42" height="10" fill="rgb(0,0,175)" shape-rendering="crispEdges"/>
<rect x="1010" y="759" width="42" height="11" fill="rgb(0,0,191)" shape-rendering="crispEdges"/>
<rect x="1010" y="748" width="42" height="11" fill="rgb(0,0,207)" shape-rendering="crispEdges"/>
<rect x="1010" y="737" width="42" height="11" fill="rgb(0,0,223)" shape-rendering="crispEdges"/>
<rect x="1010" y="727" width="42" height="10" fill="rgb(0,0,239)" shape-rendering="crispEdges"/>
<rect x="1010" y="716" width="42" height="11" fill="rgb(0,0,255)" shape-rendering="crispEdges"/>
<rect x="1010" y="705" width="42" height="11" fill="rgb(0,16,255)" shape-rendering="crispEdges"/>
<rect x="1010" y="694" width="42" height="11" fill="rgb(0,32,255)" shape-rendering="crispEdges"/>
<rect x="1010" y="684" width="42" height="10" fill="rgb(0,48,255)" shape-rendering="crispEdges"/>
<rect x="1010" y="673" width="42" height="11" fill="rgb(0,64,255)" shape-rendering="crispEdges"/>
<rect x="1010" y="662" width="42" height="11" fill="rgb(0,80,255)" shape-rendering="crispEdges"/>
<rect x="1010" y="651" width="42" height="11" fill="rgb(0,96,255)" shape-rendering="crispEdges"/>
<rect x="1010" y="641" width="42" height="10" fill="rgb(0,112,255)" shape-rendering="crispEdges"/>
<rect x="1010" y="630" width="42" height="11" fill="rgb(0,128,255)" shape-rendering="crispEdges"/>
<rect x="1010" y="619" width="42" height="11" fill="rgb(0,143,255)" shape-rendering="crispEdges"/>
<rect x="1010" y="608" width="42" height="11" fill="rgb(0,159,255)" shape-rendering="crispEdges"/>
<rect x="1010" y="597" width="42" height="11" fill="rgb(0,175,255)" shape-rendering="crispEdges"/>
<rect x="1010" y="587" width="42" height="10" fill="rgb(0,191,255)" shape-rendering="crispEdges"/>
<rect x="1010" y="576" width="42" height="11" fill="rgb(0,207,255)" shape-rendering="crispEdges"/>
<rect x="1010" y="565" width="42" height="11" fill="rgb(0,223,255)" shape-rendering="crispEdges"/>
<rect x="1010" y="554" width="42" height="11" fill="rgb(0,239,255)" shape-rendering="crispEdges"/>
<rect x="1010" y="544" width="42" height="10" fill="rgb(0,255,255)" shape-rendering="crispEdges"/>
<rect x="1010" y="533" width="42" height="11" fill="rgb(16,255,239)" shape-rendering="crispEdges"/>
<rect x="1010" y="522" width="42" height="11" fill="rgb(32,255,223)" shape-rendering="crispEdges"/>
<rect x="1010" y="511" width="42" height="11" fill="rgb(48,255,207)" shape-rendering="crispEdges"/>
<rect x="1010" y="501" width="42" height="10" fill="rgb(64,255,191)" shape-rendering="crispEdges"/>
<rect x="1010" y="490" width="42" height="11" fill="rgb(80,255,175)" shape-rendering="crispEdges"/>
<rect x="1010" y="479" width="42" height="11" fill="rgb(96,255,159)" shape-rendering="crispEdges"/>
<rect x="1010" y="468" width="42" height="11" fill="rgb(112,255,143)" shape-rendering="crispEdges"/>
<rect x="1010" y="458" width="42" height="10" fill="rgb(128,255,128)" shape-rendering="crispEdges"/>
<rect x="1010" y="447" width="42" height="11" fill="rgb(143,255,112)" shape-rendering="crispEdges"/>
<rect x="1010" y="436" width="42" height="11" fill="rgb(159,255,96)" shape-rendering="crispEdges"/>
<rect x="1010" y="425" width="42" height="11" fill="rgb(175,255,80)" shape-rendering="crispEdges"/>
<rect x="1010" y="414" width="42" height="11" fill="rgb(191,255,64)" shape-rendering="crispEdges"/>
<rect x="1010" y="404" width="42" height="10" fill="rgb(207,255,48)" shape-rendering="crispEdges"/>
<rect x="1010" y="393" width="42" height="11" fill="rgb(223,255,32)" shape-rendering="crispEdges"/>
<rect x="1010" y="382" width="42" height="11" fill="rgb(239,255,16)" shape-rendering="crispEdges"/>
<rect x="1010" y="371" width="42" height="11" fill="rgb(255,255,0)" shape-rendering="crispEdges"/>
<rect x="1010" y="361" width="42" height="10" fill="rgb(255,239,0)" shape-rendering="crispEdges"/>
<rect x="1010" y="350" width="42" height="11" fill="rgb(255,223,0)" shape-rendering="crispEdges"/>
<rect x="1010" y="339" width="42" height="11" fill="rgb(255,207,0)" shape-rendering="crispEdges"/>
<rect x="1010" y="328" width="42" height="11" fill="rgb(255,191,0)" shape-rendering="crispEdges"/>
<rect x="1010" y="318" width="42" height="10" fill="rgb(255,175,0)" shape-rendering="crispEdges"/>
<rect x="1010" y="307" width="42" height="11" fill="rgb(255,159,0)" shape-rendering="crispEdges"/>
<rect x="1010" y="296" width="42" height="11" fill="rgb(255,143,0)" shape-rendering="crispEdges"/>
<rect x="1010" y="285" width="42" height="11" fill="rgb(255,128,0)" shape-rendering="crispEdges"/>
<rect x="1010" y="274" width="42" height="11" fill="rgb(255,112,0)" shape-rendering="crispEdges"/>
<rect x="1010" y="264" width="42" height="10" fill="rgb(255,96,0)" shape-rendering="crispEdges"/>
<rect x="1010" y="253" width="42" height="11" fill="rgb(255,80,0)" shape-rendering="crispEdges"/>
<rect x="1010" y="242" width="42" height="11" fill="rgb(255,64,0)" shape-rendering="crispEdges"/>
<rect x="1010" y="231" width="42" height="11" fill="rgb(255,48,0)" shape-rendering="crispEdges"/>
<rect x="1010" y="221" width="42" height="10" fill="rgb(255,32,0)" shape-rendering="crispEdges"/>
<rect x="1010" y="210" width="42" height="11" fill="rgb(255,16,0)" shape-rendering="crispEdges"/>
<rect x="1010" y="199" width="42" height="11" fill="rgb(255,0,0)" shape-rendering="crispEdges"/>
<rect x="1010" y="188" width="42" height="11" fill="rgb(239,0,0)" shape-rendering="crispEdges"/>
<rect x="1010" y="178" width="42" height="10" fill="rgb(223,0,0)" shape-rendering="crispEdges"/>
<rect x="1010" y="167" width="42" height="11" fill="rgb(207,0,0)" shape-rendering="crispEdges"/>
<rect x="1010" y="156" width="42" height="11" fill="rgb(191,0,0)" shape-rendering="crispEdges"/>
<rect x="1010" y="145" width="42" height="11" fill="rgb(175,0,0)" shape-rendering="crispEdges"/>
<rect x="1010" y="135" width="42" height="10" fill="rgb(159,0,0)" shape-rendering="crispEdges"/>
<rect x="1010" y="124" width="42" height="11" fill="rgb(143,0,0)" shape-rendering="crispEdges"/>
<rect x="1010" y="113" width="42" height="11" fill="rgb(128,0,0)" shape-rendering="crispEdges"/>
<rect x="1010.5" y="113.5" width="42" height="689" fill="none" stroke="#000" stroke-width="1"/>
<path d="M1011,733.5h6M1046,733.5h6" stroke="#000" stroke-width="1"/>
<path d="M1011,664.5h6M1046,664.5h6" stroke="#000" stroke-width="1"/>
<path d="M1011,595.5h6M1046,595.5h6" stroke="#000" stroke-width="1"/>
<path d="M1011,526.5h6M1046,526.5h6" stroke="#000" stroke-width="1"/>
<path d="M1011,457.5h6M1046,457.5h6" stroke="#000" stroke-width="1"/>
<path d="M1011,388.5h6M1046,388.5h6" stroke="#000" stroke-width="1"/>
<path d="M1011,319.5h6M1046,319.5h6" stroke="#000" stroke-width="1"/>
<path d="M1011,250.5h6M1046,250.5h6" stroke="#000" stroke-width="1"/>
<path d="M1011,181.5h6M1046,181.5h6" stroke="#000" stroke-width="1"/>
<text transform="translate(566,20.3) scale(1.0,0.87)" font-size="25" text-anchor="middle" >WAAS LPV Coverage Contours</text>
<text transform="translate(566,46.5) scale(1.0,0.87)" font-size="25" text-anchor="middle" >O3/22/25</text>
<text transform="translate(566,72.7) scale(1.0,0.87)" font-size="25" text-anchor="middle" >Week 2358 Day 6</text>
<text transform="translate(247.7,822.9) scale(1.0,0.96)" font-size="21.3" text-anchor="middle" stroke="#fff" stroke-width="0.45">−16O</text>
<text transform="translate(379.7,822.9) scale(1.0,0.96)" font-size="21.3" text-anchor="middle" stroke="#fff" stroke-width="0.45">−14O</text>
<text transform="translate(510.7,822.9) scale(1.0,0.96)" font-size="21.3" text-anchor="middle" stroke="#fff" stroke-width="0.45">−12O</text>
<text transform="translate(642.7,822.9) scale(1.0,0.96)" font-size="21.3" text-anchor="middle" stroke="#fff" stroke-width="0.45">−1OO</text>
<text transform="translate(774.7,822.9) scale(1.0,0.96)" font-size="21.3" text-anchor="middle" stroke="#fff" stroke-width="0.45">−8O</text>
<text transform="translate(906.7,822.9) scale(1.0,0.96)" font-size="21.3" text-anchor="middle" stroke="#fff" stroke-width="0.45">−6O</text>
<text transform="translate(149.2,169.7) scale(1.0,0.96)" font-size="21.3" text-anchor="end" stroke="#fff" stroke-width="0.45">7O</text>
<text transform="translate(149.2,275.9) scale(1.0,0.96)" font-size="21.3" text-anchor="end" stroke="#fff" stroke-width="0.45">6O</text>
<text transform="translate(149.2,382.1) scale(1.0,0.96)" font-size="21.3" text-anchor="end" stroke="#fff" stroke-width="0.45">5O</text>
<text transform="translate(149.2,488.3) scale(1.0,0.96)" font-size="21.3" text-anchor="end" stroke="#fff" stroke-width="0.45">4O</text>
<text transform="translate(149.2,594.5) scale(1.0,0.96)" font-size="21.3" text-anchor="end" stroke="#fff" stroke-width="0.45">3O</text>
<text transform="translate(149.2,700.7) scale(1.0,0.96)" font-size="21.3" text-anchor="end" stroke="#fff" stroke-width="0.45">2O</text>
<text transform="translate(149.2,806.7) scale(1.0,0.96)" font-size="21.3" text-anchor="end" stroke="#fff" stroke-width="0.45">1O</text>
<text transform="translate(570.3,843.9) scale(1.0,0.92)" font-size="18.8" text-anchor="middle" font-weight="bold">Longitude</text>
<text transform="translate(112.2,454.3) rotate(-90) scale(1,0.92)" font-size="18.8" font-weight="bold" text-anchor="middle">Latitude</text>
<text class="sans" x="1058.6" y="120.2" font-size="19.6">1</text>
<text class="sans" x="1058.6" y="189.1" font-size="19.6">0.9</text>
<text class="sans" x="1058.6" y="258.0" font-size="19.6">0.8</text>
<text class="sans" x="1058.6" y="326.9" font-size="19.6">0.7</text>
<text class="sans" x="1058.6" y="395.8" font-size="19.6">0.6</text>
<text class="sans" x="1058.6" y="464.7" font-size="19.6">0.5</text>
<text class="sans" x="1058.6" y="533.6" font-size="19.6">0.4</text>
<text class="sans" x="1058.6" y="602.5" font-size="19.6">0.3</text>
<text class="sans" x="1058.6" y="671.4" font-size="19.6">0.2</text>
<text class="sans" x="1058.6" y="740.3" font-size="19.6">0.1</text>
<text class="sans" x="1058.6" y="809.2" font-size="19.6">0</text>
<text transform="translate(162.6,530.5) scale(1.0,0.88)" font-size="15" text-anchor="start" xml:space="preserve" style="white-space:pre">Percent| CONUS   | Alaska  | Canada</text>
<text transform="translate(162.6,551.5) scale(1.0,0.88)" font-size="15" text-anchor="start" xml:space="preserve" style="white-space:pre"> Avail.|Coverage |Coverage | Coverage</text>
<text transform="translate(162.6,572.5) scale(1.0,0.88)" font-size="15" text-anchor="start" xml:space="preserve" style="white-space:pre">  95   | 59.86%  | O.OO% | 3.41%</text>
<text transform="translate(162.6,593.5) scale(1.0,0.88)" font-size="15" text-anchor="start" xml:space="preserve" style="white-space:pre">  98   | 39.36%  | O.OO% | O.OO%</text>
<text transform="translate(162.6,614.5) scale(1.0,0.88)" font-size="15" text-anchor="start" xml:space="preserve" style="white-space:pre">  99   | 33.53%  | O.OO% | O.OO%</text>
<text transform="translate(162.6,635.5) scale(1.0,0.88)" font-size="15" text-anchor="start" xml:space="preserve" style="white-space:pre">99.9   | 25.O7%  | O.OO% | O.OO%</text>
<text transform="translate(162.6,656.5) scale(1.0,0.88)" font-size="15" text-anchor="start" xml:space="preserve" style="white-space:pre"> 1OO   | 24.23%  | O.OO% | O.OO%</text>
<path d="M162.6,557.5H503" stroke="#000" stroke-width="1" stroke-dasharray="6.5,2.44" fill="none"/>
<text transform="translate(187.5,746.7) scale(1.0,1.2)" font-size="10" text-anchor="start" xml:space="preserve" style="white-space:pre">W.J.H. FAA Technical Center</text>
<text transform="translate(187.5,760) scale(1.0,1.2)" font-size="10" text-anchor="start" xml:space="preserve" style="white-space:pre">WAAS Test Team</text>
</svg>
</body></html>
